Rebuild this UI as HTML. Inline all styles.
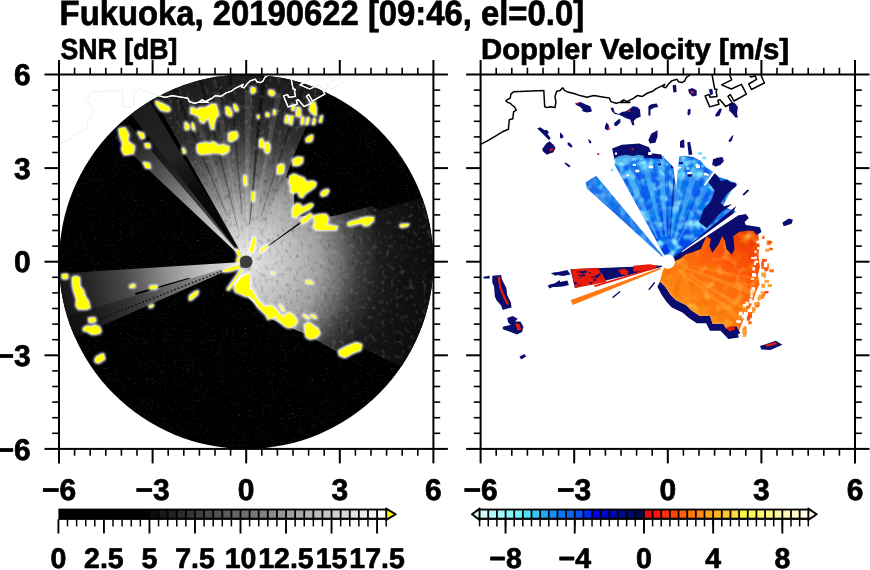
<!DOCTYPE html>
<html><head><meta charset="utf-8"><style>
html,body{margin:0;padding:0;background:#fff;width:870px;height:570px;overflow:hidden}
svg{display:block;will-change:transform}
text{text-rendering:geometricPrecision;-webkit-font-smoothing:antialiased}
</style></head><body>
<svg width="870" height="570" viewBox="0 0 870 570">
<g id="left-data">
<defs>
<radialGradient id="gE" gradientUnits="userSpaceOnUse" cx="246.2" cy="261.7" r="187.2"><stop offset="0" stop-color="#ececec"/><stop offset="0.07" stop-color="#dadada"/><stop offset="0.23" stop-color="#c2c2c2"/><stop offset="0.39" stop-color="#a0a0a0"/><stop offset="0.5" stop-color="#707070"/><stop offset="0.6" stop-color="#3c3c3c"/><stop offset="0.72" stop-color="#1c1c1c"/><stop offset="0.85" stop-color="#121212"/><stop offset="1" stop-color="#0e0e0e"/></radialGradient>
<radialGradient id="gN" gradientUnits="userSpaceOnUse" cx="246.2" cy="261.7" r="187.2"><stop offset="0" stop-color="#f0f0f0"/><stop offset="0.17" stop-color="#cccccc"/><stop offset="0.3" stop-color="#a8a8a8"/><stop offset="0.42" stop-color="#808080"/><stop offset="0.55" stop-color="#565656"/><stop offset="0.65" stop-color="#3a3a3a"/><stop offset="0.75" stop-color="#2a2a2a"/><stop offset="0.9" stop-color="#222222"/><stop offset="1" stop-color="#1c1c1c"/></radialGradient>
<radialGradient id="gNW" gradientUnits="userSpaceOnUse" cx="246.2" cy="261.7" r="187.2"><stop offset="0" stop-color="#ececec"/><stop offset="0.2" stop-color="#cccccc"/><stop offset="0.35" stop-color="#acacac"/><stop offset="0.5" stop-color="#7c7c7c"/><stop offset="0.7" stop-color="#464646"/><stop offset="0.85" stop-color="#262626"/><stop offset="1" stop-color="#141414"/></radialGradient>
<radialGradient id="gBand" gradientUnits="userSpaceOnUse" cx="246.2" cy="261.7" r="187.2"><stop offset="0" stop-color="#000"/><stop offset="0.45" stop-color="#0a0a0a"/><stop offset="0.7" stop-color="#242424"/><stop offset="1" stop-color="#1c1c1c"/></radialGradient>
<radialGradient id="gW" gradientUnits="userSpaceOnUse" cx="246.2" cy="261.7" r="187.2"><stop offset="0" stop-color="#e8e8e8"/><stop offset="0.2" stop-color="#c8c8c8"/><stop offset="0.45" stop-color="#8a8a8a"/><stop offset="0.65" stop-color="#4a4a4a"/><stop offset="0.85" stop-color="#262626"/><stop offset="1" stop-color="#161616"/></radialGradient>
<clipPath id="discL"><circle cx="246.2" cy="261.7" r="187.2"/></clipPath>
<filter id="glow" x="-10%" y="-10%" width="120%" height="120%"><feMorphology in="SourceAlpha" operator="dilate" radius="1.3" result="d"/><feGaussianBlur in="d" stdDeviation="1.3" result="b"/><feColorMatrix in="b" type="matrix" values="0 0 0 0 1  0 0 0 0 1  0 0 0 0 1  0 0 0 0.95 0" result="w"/><feMerge><feMergeNode in="w"/><feMergeNode in="SourceGraphic"/></feMerge></filter>
<filter id="specks" x="0" y="0" width="1" height="1"><feTurbulence type="turbulence" baseFrequency="0.35 0.6" numOctaves="1" seed="11" result="n"/><feColorMatrix in="n" type="matrix" values="0 0 0 0 1  0 0 0 0 1  0 0 0 0 1  1.3 0 0 0 -0.35" result="c"/><feComposite in="c" in2="SourceAlpha" operator="in"/></filter>
<filter id="grainK" x="0" y="0" width="1" height="1"><feTurbulence type="fractalNoise" baseFrequency="0.25 0.18" numOctaves="2" seed="21" result="n"/><feColorMatrix in="n" type="matrix" values="0 0 0 0 0  0 0 0 0 0  0 0 0 0 0  3.5 0 0 0 -1.9" result="c"/><feComposite in="c" in2="SourceAlpha" operator="in"/></filter>
<filter id="grainW" x="0" y="0" width="1" height="1"><feTurbulence type="fractalNoise" baseFrequency="0.22 0.2" numOctaves="2" seed="33" result="n"/><feColorMatrix in="n" type="matrix" values="0 0 0 0 1  0 0 0 0 1  0 0 0 0 1  3.5 0 0 0 -1.95" result="c"/><feComposite in="c" in2="SourceAlpha" operator="in"/></filter>
</defs>
<circle cx="246.2" cy="261.7" r="187.2" fill="#000"/>
<circle cx="246.2" cy="261.7" r="187.2" fill="#fff" filter="url(#specks)" opacity="0.22"/>
<g clip-path="url(#discL)">
<polygon points="246.2,261.7 234.3,287.1 246.8,296.0 259.2,308.9 272.0,319.6 290.9,327.9 305.5,334.1 343.5,355.4 364.2,348.7 404.0,368.1 404.0,368.1 407.6,362.6 411.0,356.9 414.2,351.0 417.3,345.1 420.1,339.1 422.7,333.0 425.0,326.8 427.2,320.5 429.1,314.2 430.9,307.7 432.4,301.3 433.6,294.7 434.7,288.2 435.5,281.6 436.1,275.0 436.4,268.3 436.5,261.7 436.4,255.1 436.1,248.4 435.5,241.8 434.7,235.2 433.6,228.7 432.4,222.1 430.9,215.7 429.1,209.2 427.2,202.9 425.0,196.6 380.2,210.3 371.6,205.9 337.9,215.0 321.9,218.0 312.6,215.2 296.8,216.7 294.3,204.3 294.1,185.0 286.1,177.0 292.8,158.1 322.7,87.4" fill="url(#gE)"/>
<polygon points="246.2,261.7 322.7,87.4 317.5,85.2 311.3,82.9 305.0,80.7 298.7,78.8 292.2,77.0 285.8,75.5 279.2,74.3 272.7,73.2 266.1,72.4 259.5,71.8 252.8,71.5 246.2,71.4 239.6,71.5 232.9,71.8 226.3,72.4 219.7,73.2 213.2,74.3 206.6,75.5 200.2,77.0 193.7,78.8 187.4,80.7 181.1,82.9 174.9,85.2 168.8,87.8 162.8,90.6 156.9,93.7 149.6,97.7" fill="url(#gN)" stroke="url(#gN)" stroke-width="1.2"/>
<polygon points="265.8,75.5 263.3,75.3 260.9,75.1 249.1,224.4 249.6,224.4 250.1,224.5" fill="#000" opacity="0.45"/>
<polygon points="231.5,75.1 229.9,75.2 228.3,75.4 241.7,215.1 242.1,215.1 242.5,215.0" fill="#000" opacity="0.3"/>
<polygon points="202.5,79.7 200.9,80.1 199.3,80.5 238.4,231.5 238.7,231.4 238.9,231.4" fill="#000" opacity="0.35"/>
<polygon points="305.6,84.2 304.0,83.7 302.5,83.2 260.3,217.1 260.7,217.2 261.0,217.3" fill="#000" opacity="0.3"/>
<polygon points="176.1,88.1 174.6,88.7 173.1,89.4 226.7,215.7 227.1,215.6 227.5,215.4" fill="#000" opacity="0.3"/>
<polygon points="281.9,93.8 278.9,93.3 276.0,92.7 251.6,231.0 252.2,231.1 252.7,231.2" fill="#fff" opacity="0.12"/>
<polygon points="252.2,90.2 248.4,90.1 244.7,90.1 245.9,230.5 246.6,230.5 247.3,230.5" fill="#fff" opacity="0.12"/>
<polygon points="219.4,92.2 216.4,92.7 213.5,93.3 240.2,231.1 240.8,231.0 241.3,230.9" fill="#fff" opacity="0.1"/>
<polygon points="193.2,98.5 190.3,99.4 187.5,100.4 235.5,232.4 236.0,232.2 236.6,232.0" fill="#fff" opacity="0.1"/>
<polygon points="246.2,261.7 234.3,287.1 246.8,296.0 259.2,308.9 272.0,319.6 290.9,327.9 305.5,334.1 343.5,355.4 364.2,348.7 404.0,368.1 404.0,368.1 407.6,362.6 411.0,356.9 414.2,351.0 417.3,345.1 420.1,339.1 422.7,333.0 425.0,326.8 427.2,320.5 429.1,314.2 430.9,307.7 432.4,301.3 433.6,294.7 434.7,288.2 435.5,281.6 436.1,275.0 436.4,268.3 436.5,261.7 436.4,255.1 436.1,248.4 435.5,241.8 434.7,235.2 433.6,228.7 432.4,222.1 430.9,215.7 429.1,209.2 427.2,202.9 425.0,196.6 380.2,210.3 371.6,205.9 337.9,215.0 321.9,218.0 312.6,215.2 296.8,216.7 294.3,204.3 294.1,185.0 286.1,177.0 292.8,158.1 322.7,87.4" fill="#000" filter="url(#grainK)" opacity="0.2"/>
<polygon points="246.2,261.7 234.3,287.1 246.8,296.0 259.2,308.9 272.0,319.6 290.9,327.9 305.5,334.1 343.5,355.4 364.2,348.7 404.0,368.1 404.0,368.1 407.6,362.6 411.0,356.9 414.2,351.0 417.3,345.1 420.1,339.1 422.7,333.0 425.0,326.8 427.2,320.5 429.1,314.2 430.9,307.7 432.4,301.3 433.6,294.7 434.7,288.2 435.5,281.6 436.1,275.0 436.4,268.3 436.5,261.7 436.4,255.1 436.1,248.4 435.5,241.8 434.7,235.2 433.6,228.7 432.4,222.1 430.9,215.7 429.1,209.2 427.2,202.9 425.0,196.6 380.2,210.3 371.6,205.9 337.9,215.0 321.9,218.0 312.6,215.2 296.8,216.7 294.3,204.3 294.1,185.0 286.1,177.0 292.8,158.1 322.7,87.4" fill="#fff" filter="url(#grainW)" opacity="0.15"/>
<polygon points="246.2,261.7 322.7,87.4 317.5,85.2 311.3,82.9 305.0,80.7 298.7,78.8 292.2,77.0 285.8,75.5 279.2,74.3 272.7,73.2 266.1,72.4 259.5,71.8 252.8,71.5 246.2,71.4 239.6,71.5 232.9,71.8 226.3,72.4 219.7,73.2 213.2,74.3 206.6,75.5 200.2,77.0 193.7,78.8 187.4,80.7 181.1,82.9 174.9,85.2 168.8,87.8 162.8,90.6 156.9,93.7 149.6,97.7" fill="#000" filter="url(#grainK)" opacity="0.2"/>
<polygon points="246.2,261.7 322.7,87.4 317.5,85.2 311.3,82.9 305.0,80.7 298.7,78.8 292.2,77.0 285.8,75.5 279.2,74.3 272.7,73.2 266.1,72.4 259.5,71.8 252.8,71.5 246.2,71.4 239.6,71.5 232.9,71.8 226.3,72.4 219.7,73.2 213.2,74.3 206.6,75.5 200.2,77.0 193.7,78.8 187.4,80.7 181.1,82.9 174.9,85.2 168.8,87.8 162.8,90.6 156.9,93.7 149.6,97.7" fill="#fff" filter="url(#grainW)" opacity="0.15"/>
<polygon points="128.7,124.1 125.7,126.7 122.7,129.4 119.9,132.1 117.0,135.0 114.3,137.8 246.2,261.7" fill="url(#gNW)"/>
<polygon points="148.2,98.6 144.2,101.0 140.3,103.5 136.5,106.2 132.7,108.9 129.0,111.7 236.6,249.4 236.9,249.2 237.2,249.0 237.5,248.7 237.8,248.5 238.2,248.3" fill="url(#gBand)"/>
<polygon points="150.2,138.8 147.5,140.9 144.9,143.1 246.2,261.7" fill="url(#gNW)" opacity="0.35"/>
<polygon points="56.3,273.7 56.6,278.5 57.1,283.3 57.7,288.1 58.5,292.9 59.3,297.6 60.3,302.4 61.4,307.1 62.6,311.8 63.9,316.4 65.4,321.1 66.9,325.6 68.6,330.2 70.4,334.7 72.3,339.1 246.2,261.7" fill="url(#gW)"/>
<polygon points="64.2,317.3 65.6,321.8 67.1,326.2 68.8,330.5 70.5,334.8 72.3,339.1 234.8,266.8 234.7,266.5 234.6,266.2 234.5,265.9 234.4,265.6 234.3,265.3" fill="#000" opacity="0.28"/>
<polygon points="135.1,293.1 135.4,294.1 135.7,295.1 189.5,278.8 189.3,278.3 189.2,277.8" fill="#000"/>
<line x1="228.8" y1="268.5" x2="95.1" y2="320.9" stroke="#080808" stroke-width="1.3" stroke-dasharray="1.6 2.2"/>
<polygon points="152.5,96.1 150.3,97.3 148.2,98.6 241.4,253.7 241.5,253.6 241.6,253.6" fill="#000"/>
<polygon points="317.8,211.6 317.1,210.7 316.5,209.9 267.5,246.0 267.7,246.2 267.9,246.5" fill="#000"/>
<g fill="#ffff00" filter="url(#glow)">
<polygon points="155.4,101.1 161.1,103.2 168.1,106.7 170.2,109.5 168.1,111.6 161.1,110.2 158.3,106.7 156.2,103.9" fill="#ffff00"/>
<polygon points="190.6,107.4 193.4,108.1 196.2,110.2 200.4,107.4 204.6,108.1 207.4,106.7 210.2,105.3 213.0,103.9 215.8,104.6 217.2,109.5 218.7,115.1 216.5,116.5 214.4,122.1 213.7,129.2 211.6,129.2 209.5,122.1 208.8,117.9 206.0,119.3 203.2,123.5 200.4,120.7 199.0,116.5 196.2,115.1 193.4,113.7 190.6,113.7" fill="#ffff00"/>
<polygon points="184.9,122.1 188.5,124.9 189.2,128.5 186.3,129.9 184.9,127.8" fill="#ffff00"/>
<polygon points="192.0,122.1 194.1,126.3 194.8,130.6 193.4,129.9 192.0,126.3" fill="#ffff00"/>
<polygon points="225.7,106.7 229.9,108.1 231.3,113.7 228.5,115.8 226.4,113.7" fill="#ffff00"/>
<polygon points="234.1,103.9 236.9,106.7 237.6,110.2 235.5,110.9 234.1,106.7" fill="#ffff00"/>
<polygon points="228.5,133.4 232.7,132.0 236.9,132.7 237.6,136.2 234.1,139.0 231.3,141.8 228.5,140.4" fill="#ffff00"/>
<polygon points="197.6,144.6 201.8,143.2 206.0,142.5 210.2,143.9 213.0,141.8 215.8,143.2 218.7,146.0 222.9,144.6 225.7,146.0 228.5,146.0 229.2,150.2 225.7,153.0 222.9,154.4 218.7,153.0 213.0,153.0 207.4,153.7 201.8,154.4 198.3,153.0 196.9,148.8" fill="#ffff00"/>
<polygon points="182.1,147.4 184.9,150.2 185.6,153.0 183.5,153.7" fill="#ffff00"/>
<polygon points="118.7,128.9 124.5,127.5 128.8,134.7 127.4,140.5 130.2,143.4 134.6,146.3 133.1,153.5 124.5,155.0 121.6,149.2 123.0,143.4 120.1,136.2" fill="#ffff00"/>
<polygon points="137.5,131.8 143.3,133.3 144.7,137.6 141.8,139.1" fill="#ffff00"/>
<polygon points="144.7,143.4 149.1,143.4 150.5,147.7 146.2,147.7" fill="#ffff00"/>
<polygon points="143.3,162.2 149.1,163.6 150.5,168.0 146.2,168.0" fill="#ffff00"/>
<polygon points="251.1,87.2 255.3,87.9 255.3,91.4 252.5,93.6 250.8,91.4" fill="#ffff00"/>
<polygon points="269.3,90.0 272.8,90.7 274.9,93.6 272.8,95.7 270.0,95.0 268.6,92.9" fill="#ffff00"/>
<polygon points="233.5,104.1 236.3,106.2 238.4,110.4 236.3,111.1 234.2,107.6" fill="#ffff00"/>
<polygon points="230.0,111.1 232.1,112.5 231.4,116.0 230.0,116.0" fill="#ffff00"/>
<polygon points="266.5,112.5 268.6,113.2 269.3,116.0 267.2,116.7 265.8,115.3" fill="#ffff00"/>
<polygon points="273.5,109.7 275.6,110.4 274.9,114.6 273.5,114.6" fill="#ffff00"/>
<polygon points="257.4,115.3 259.2,115.3 258.8,118.8 257.4,118.1" fill="#ffff00"/>
<polygon points="291.8,104.8 294.6,106.2 293.9,110.4 291.8,109.7" fill="#ffff00"/>
<polygon points="297.4,106.9 300.2,108.3 300.9,115.3 298.8,116.7 296.0,115.3" fill="#ffff00"/>
<polygon points="310.8,102.7 314.3,102.0 316.4,108.3 316.4,116.0 312.9,113.9 309.4,109.7" fill="#ffff00"/>
<polygon points="286.2,115.3 288.3,115.3 287.6,123.1 285.5,123.1 284.8,120.9" fill="#ffff00"/>
<polygon points="290.4,116.0 293.2,116.0 291.8,124.5 289.7,124.5" fill="#ffff00"/>
<polygon points="301.6,117.4 303.7,116.7 303.0,123.8 300.9,124.5" fill="#ffff00"/>
<polygon points="307.2,117.4 309.4,118.1 307.9,124.5 305.8,124.5" fill="#ffff00"/>
<polygon points="313.6,118.1 315.7,119.5 314.3,124.5 312.2,124.5" fill="#ffff00"/>
<polygon points="320.6,116.7 322.7,115.3 321.3,122.3 319.2,122.3" fill="#ffff00"/>
<polygon points="305.8,139.2 310.1,135.7 312.9,135.0 312.2,139.9 309.4,142.0 306.5,142.0" fill="#ffff00"/>
<polygon points="232.8,132.2 236.3,131.5 237.7,136.4 234.9,139.9 231.4,139.9 230.0,137.8" fill="#ffff00"/>
<polygon points="259.5,139.9 262.3,138.5 263.7,143.4 263.0,147.6 259.5,146.9" fill="#ffff00"/>
<polygon points="265.1,143.4 267.9,142.0 270.0,146.2 269.3,151.8 266.5,153.2 264.4,149.0" fill="#ffff00"/>
<polygon points="292.5,159.8 298.1,157.0 303.0,157.7 302.3,162.6 298.1,165.4 293.2,165.4" fill="#ffff00"/>
<polygon points="277.7,166.2 281.2,164.0 284.0,165.4 283.3,171.1 279.8,173.9 277.0,172.5" fill="#ffff00"/>
<polygon points="289.7,176.7 293.9,173.9 298.1,176.0 303.7,178.1 306.5,182.3 312.1,180.9 316.3,183.0 314.9,186.5 309.3,190.7 305.1,193.5 302.3,197.8 299.5,196.3 298.1,192.1 295.3,192.1 292.5,193.5 290.4,190.7 291.1,186.5 289.0,182.3" fill="#ffff00"/>
<polygon points="320.6,193.5 323.4,190.7 327.6,189.3 329.0,190.7 326.2,194.9 322.0,196.3" fill="#ffff00"/>
<polygon points="292.5,209.0 296.7,203.4 300.2,204.1 300.9,207.6 305.1,206.2 310.7,203.4 313.5,204.8 309.3,209.0 303.7,211.8 299.5,214.6 295.3,217.4 292.5,216.0" fill="#ffff00"/>
<polygon points="300.9,220.2 306.5,216.0 310.7,213.2 312.1,216.0 307.9,220.2 303.7,223.0 301.6,223.7" fill="#ffff00"/>
<polygon points="313.5,216.0 319.2,214.6 324.8,213.9 327.6,216.0 328.3,220.2 326.2,224.4 331.8,225.8 337.4,226.5 336.0,230.1 316.3,230.1 313.5,226.5 314.9,221.6" fill="#ffff00"/>
<polygon points="348.7,223.0 354.3,221.6 358.5,220.2 366.9,217.4 370.0,218.8 370.0,224.4 365.5,225.8 361.3,223.0 354.3,224.4 348.7,225.1" fill="#ffff00"/>
<polygon points="347.7,223.2 352.6,221.1 358.3,219.7 361.1,218.3 368.1,216.9 373.7,217.6 373.0,221.1 368.1,224.6 364.6,226.0 362.5,222.5 356.9,223.2 348.4,226.0" fill="#ffff00"/>
<polygon points="399.7,225.3 404.6,223.9 408.8,223.9 407.4,226.0 401.8,227.4" fill="#ffff00"/>
<polygon points="61.8,274.7 66.7,274.0 68.1,276.9 66.0,279.0 62.5,278.3" fill="#ffff00"/>
<polygon points="72.3,277.6 75.9,276.2 79.4,277.6 80.1,286.7 83.6,290.9 85.0,296.5 88.5,302.1 89.9,307.8 85.7,309.2 78.7,309.2 75.9,304.9 76.6,299.3 75.2,295.1 73.0,288.1 72.3,282.5" fill="#ffff00"/>
<polygon points="88.5,318.3 94.1,317.6 96.2,320.4 92.7,322.5 89.2,322.5" fill="#ffff00"/>
<polygon points="82.9,328.8 87.1,326.0 91.3,326.7 95.5,325.3 99.7,327.4 101.1,331.6 98.3,333.7 92.7,334.4 89.9,333.0 87.1,330.9 84.3,330.9" fill="#ffff00"/>
<polygon points="129.9,286.0 133.4,283.9 135.5,286.0 133.4,287.4 129.9,287.4" fill="#ffff00"/>
<polygon points="151.7,287.4 155.9,286.0 157.3,287.4 155.2,288.8 151.7,288.8" fill="#ffff00"/>
<polygon points="148.9,306.3 151.7,304.9 153.8,304.2 152.4,307.1 149.6,307.8" fill="#ffff00"/>
<polygon points="96.4,357.0 103.2,353.6 104.9,358.7 98.1,363.2 94.7,361.1" fill="#ffff00"/>
<polygon points="234.3,289.2 238.5,282.1 242.7,276.5 248.3,273.7 250.0,275.1 250.0,296.2 245.5,296.2 239.9,293.4 235.7,292.0" fill="#ffff00"/>
<polygon points="189.3,296.2 194.9,292.0 198.5,290.6 197.8,294.1 192.1,299.0 189.3,300.4" fill="#ffff00"/>
<polygon points="150.0,286.3 155.6,285.6 157.7,287.1 155.6,288.5 150.0,289.2" fill="#ffff00"/>
<polygon points="227.0,289.4 237.1,275.1 241.3,268.1 242.7,268.8 238.5,276.5 228.7,290.3" fill="#ffff00"/>
<polygon points="235.7,248.4 239.9,251.2 241.3,256.9 238.5,256.9" fill="#ffff00"/>
<polygon points="237.1,258.3 239.9,258.3 239.2,262.5 236.4,262.5" fill="#ffff00"/>
<polygon points="223.0,270.2 234.3,266.0 239.9,265.3 239.2,268.1 231.5,270.9 223.7,272.0" fill="#ffff00"/>
<polygon points="239.8,278.9 242.6,276.0 244.0,281.7 248.3,283.1 249.7,288.7 252.5,290.1 255.3,295.7 258.1,299.9 260.9,302.7 265.1,306.9 270.7,305.5 274.9,308.3 279.2,314.0 283.4,316.8 289.0,312.6 293.2,315.4 297.4,321.0 294.6,325.2 289.0,328.0 284.8,325.9 279.2,321.0 274.9,316.8 270.7,318.2 267.9,319.6 266.5,315.4 260.9,309.8 258.1,306.9 253.9,299.9 249.7,297.1 245.4,295.7 241.2,292.9 237.0,291.5 234.2,288.7 235.6,284.5" fill="#ffff00"/>
<polygon points="304.4,325.2 308.7,322.4 314.3,326.6 318.5,329.4 319.9,333.6 315.7,337.8 310.1,339.2 305.8,336.4" fill="#ffff00"/>
<polygon points="305.8,280.3 310.1,281.0 313.6,283.8 310.1,283.8 306.5,283.1" fill="#ffff00"/>
<polygon points="303.0,314.0 305.8,315.4 310.1,318.2 308.7,318.9 303.7,316.1" fill="#ffff00"/>
<polygon points="310.1,314.0 314.3,315.4 317.1,318.2 314.3,318.2" fill="#ffff00"/>
<polygon points="279.2,304.1 281.3,305.5 284.8,311.2 282.7,311.2" fill="#ffff00"/>
<polygon points="270.7,271.8 273.5,272.5 274.9,273.9 272.8,273.9" fill="#ffff00"/>
<polygon points="338.5,351.1 348.0,345.9 356.4,342.7 361.7,344.8 360.6,350.1 352.2,353.2 344.8,357.4 339.5,355.3" fill="#ffff00"/>
<polygon points="244.1,175.3 246.2,176.0 246.9,185.1 244.8,185.8 243.7,180.9" fill="#ffff00"/>
<polygon points="252.1,192.1 254.6,192.1 254.6,200.6 252.5,202.0 251.8,197.8" fill="#ffff00"/>
<polygon points="278.5,165.4 283.4,164.7 283.4,172.5 279.9,173.9 277.1,173.2" fill="#ffff00"/>
<polygon points="249.2,250.5 253.4,237.9 255.5,236.8 254.4,248.4 251.3,253.7" fill="#ffff00"/>
<polygon points="259.7,250.5 266.0,245.3 268.1,246.3 261.8,252.6" fill="#ffff00"/>
</g>
</g>
<polyline points="58.4,144.7 65.3,141.2 73.9,136.1 80.8,131.8 86.8,129.2 87.7,119.7 91.2,118.8 92.0,111.9 94.6,110.2 92.9,106.8 90.3,105.0 88.6,103.3 86.0,102.4 84.3,100.7 86.0,99.5 88.6,98.1 89.4,93.8 92.0,91.8 122.2,90.4 123.1,106.8 125.6,107.6 129.1,106.8 133.4,107.6 134.3,102.4 133.4,96.4 135.1,91.2 138.6,90.4 141.2,87.8 142.9,90.4 146.3,92.1 153.2,93.8 158.4,95.6 165.3,97.3 172.2,95.6 182.5,97.3 187.7,98.1 189.4,101.6 194.6,103.3 200.6,101.6 202.4,99.9 205.0,101.6 208.4,102.4 198.4,102.4 201.8,99.9 205.3,101.6 212.2,98.1 215.6,95.6 220.8,96.4 226.0,93.0 231.2,91.2 234.6,88.7 239.8,86.1 243.2,84.3 241.5,86.9 244.1,87.8 246.7,84.3 250.1,80.9 255.3,79.2 257.0,81.8 260.5,82.6 263.1,80.9 264.8,77.4 267.4,75.7 269.1,74.0" fill="none" stroke="#f2f2f2" stroke-width="1.2" stroke-linejoin="round"/>
<polyline points="290.4,74.4 293.1,89.0 295.4,89.5 294.5,91.3 295.4,96.4 288.5,97.3 287.6,94.5 283.5,95.9 288.1,106.9 297.3,104.2 296.3,100.5 298.2,99.6 304.1,106.5 311.0,103.3 306.4,96.4 308.7,94.5 312.4,101.0 324.8,94.1 319.8,84.4 309.7,89.0 300.0,84.9 310.1,79.8 307.8,74.4" fill="none" stroke="#f2f2f2" stroke-width="1.2" stroke-linejoin="round"/>
<polyline points="328.1,75.7 329.4,77.1 333.6,75.7 335.0,79.4 327.1,84.0 329.9,89.5 342.8,83.0 339.1,74.4" fill="none" stroke="#f2f2f2" stroke-width="1.2" stroke-linejoin="round"/>
<g clip-path="url(#discL)"><polyline points="58.4,144.7 65.3,141.2 73.9,136.1 80.8,131.8 86.8,129.2 87.7,119.7 91.2,118.8 92.0,111.9 94.6,110.2 92.9,106.8 90.3,105.0 88.6,103.3 86.0,102.4 84.3,100.7 86.0,99.5 88.6,98.1 89.4,93.8 92.0,91.8 122.2,90.4 123.1,106.8 125.6,107.6 129.1,106.8 133.4,107.6 134.3,102.4 133.4,96.4 135.1,91.2 138.6,90.4 141.2,87.8 142.9,90.4 146.3,92.1 153.2,93.8 158.4,95.6 165.3,97.3 172.2,95.6 182.5,97.3 187.7,98.1 189.4,101.6 194.6,103.3 200.6,101.6 202.4,99.9 205.0,101.6 208.4,102.4 198.4,102.4 201.8,99.9 205.3,101.6 212.2,98.1 215.6,95.6 220.8,96.4 226.0,93.0 231.2,91.2 234.6,88.7 239.8,86.1 243.2,84.3 241.5,86.9 244.1,87.8 246.7,84.3 250.1,80.9 255.3,79.2 257.0,81.8 260.5,82.6 263.1,80.9 264.8,77.4 267.4,75.7 269.1,74.0" fill="none" stroke="#ffffff" stroke-width="1.3" stroke-linejoin="round"/>
<polyline points="290.4,74.4 293.1,89.0 295.4,89.5 294.5,91.3 295.4,96.4 288.5,97.3 287.6,94.5 283.5,95.9 288.1,106.9 297.3,104.2 296.3,100.5 298.2,99.6 304.1,106.5 311.0,103.3 306.4,96.4 308.7,94.5 312.4,101.0 324.8,94.1 319.8,84.4 309.7,89.0 300.0,84.9 310.1,79.8 307.8,74.4" fill="none" stroke="#ffffff" stroke-width="1.3" stroke-linejoin="round"/>
<polyline points="328.1,75.7 329.4,77.1 333.6,75.7 335.0,79.4 327.1,84.0 329.9,89.5 342.8,83.0 339.1,74.4" fill="none" stroke="#ffffff" stroke-width="1.3" stroke-linejoin="round"/></g>
<circle cx="246.2" cy="261.7" r="6.3" fill="#3c3c3c"/>
</g>
<g id="right-data">
<defs>
<linearGradient id="gO" gradientUnits="userSpaceOnUse" x1="690" y1="315" x2="745" y2="238"><stop offset="0" stop-color="#ff9418"/><stop offset="0.35" stop-color="#ff7410"/><stop offset="0.7" stop-color="#ff5208"/><stop offset="1" stop-color="#f03c06"/></linearGradient>
<radialGradient id="gB" gradientUnits="userSpaceOnUse" cx="667.8" cy="261.7" r="187.2"><stop offset="0" stop-color="#0030e0"/><stop offset="0.15" stop-color="#0048ec"/><stop offset="0.3" stop-color="#0a5cf0"/><stop offset="0.5" stop-color="#1064f0"/><stop offset="1" stop-color="#0a5cf0"/></radialGradient>
<filter id="mottleY" x="0" y="0" width="1" height="1"><feTurbulence type="fractalNoise" baseFrequency="0.09" numOctaves="2" seed="4" result="n"/><feColorMatrix in="n" type="matrix" values="0 0 0 0 1  0 0 0 0 0.7  0 0 0 0 0.1  2.0 0 0 0 -1.05" result="c"/><feComposite in="c" in2="SourceAlpha" operator="in"/></filter>
<filter id="mottleR" x="0" y="0" width="1" height="1"><feTurbulence type="fractalNoise" baseFrequency="0.11" numOctaves="2" seed="9" result="n"/><feColorMatrix in="n" type="matrix" values="0 0 0 0 0.9  0 0 0 0 0.16  0 0 0 0 0.0  2.4 0 0 0 -1.1" result="c"/><feComposite in="c" in2="SourceAlpha" operator="in"/></filter>
<filter id="mottleC" x="0" y="0" width="1" height="1"><feTurbulence type="fractalNoise" baseFrequency="0.1" numOctaves="2" seed="2" result="n"/><feColorMatrix in="n" type="matrix" values="0 0 0 0 0.25  0 0 0 0 0.78  0 0 0 0 0.97  3.2 0 0 0 -1.3" result="c"/><feComposite in="c" in2="SourceAlpha" operator="in"/></filter>
<filter id="mottleD" x="0" y="0" width="1" height="1"><feTurbulence type="fractalNoise" baseFrequency="0.1" numOctaves="2" seed="7" result="n"/><feColorMatrix in="n" type="matrix" values="0 0 0 0 0.0  0 0 0 0 0.2  0 0 0 0 0.85  3.0 0 0 0 -1.35" result="c"/><feComposite in="c" in2="SourceAlpha" operator="in"/></filter>
</defs>
<polygon points="667.8,261.7 614.6,164.4 617.0,157.0 629.3,155.8 644.1,154.6 653.9,157.0 663.7,155.8 676.0,157.0 683.4,155.8 693.2,157.0 700.6,160.7 705.5,166.9 712.9,171.8 717.8,176.7 725.1,179.1 737.4,184.1 732.5,189.0 727.6,196.3 722.7,206.2 737.4,212.3" fill="url(#gB)"/>
<polygon points="667.8,261.7 614.6,164.4 617.0,157.0 629.3,155.8 644.1,154.6 653.9,157.0 663.7,155.8 676.0,157.0 683.4,155.8 693.2,157.0 700.6,160.7 705.5,166.9 712.9,171.8 717.8,176.7 725.1,179.1 737.4,184.1 732.5,189.0 727.6,196.3 722.7,206.2 737.4,212.3" fill="#fff" filter="url(#mottleC)"/>
<polygon points="667.8,261.7 614.6,164.4 617.0,157.0 629.3,155.8 644.1,154.6 653.9,157.0 663.7,155.8 676.0,157.0 683.4,155.8 693.2,157.0 700.6,160.7 705.5,166.9 712.9,171.8 717.8,176.7 725.1,179.1 737.4,184.1 732.5,189.0 727.6,196.3 722.7,206.2 737.4,212.3" fill="#fff" filter="url(#mottleD)"/>
<polygon points="630.4,169.1 628.3,170.0 626.1,171.0 624.0,172.0 656.9,239.3 657.4,239.0 657.9,238.8 658.4,238.6" fill="#5ec2f6" opacity="0.6"/>
<polygon points="648.7,163.7 646.5,164.2 644.2,164.7 642.0,165.3 661.3,237.6 661.9,237.4 662.5,237.3 663.0,237.2" fill="#5ec2f6" opacity="0.5"/>
<polygon points="664.3,161.9 662.0,162.0 659.7,162.2 657.4,162.4 665.2,236.9 665.8,236.8 666.3,236.8 666.9,236.8" fill="#5ec2f6" opacity="0.6"/>
<polygon points="685.1,163.4 682.8,163.0 680.5,162.7 678.2,162.4 670.4,236.9 671.0,236.9 671.6,237.0 672.1,237.1" fill="#5ec2f6" opacity="0.5"/>
<polygon points="700.3,167.3 698.1,166.6 695.9,165.9 693.6,165.3 674.3,237.6 674.8,237.7 675.4,237.9 675.9,238.1" fill="#5ec2f6" opacity="0.5"/>
<polygon points="716.2,174.4 714.2,173.3 712.1,172.2 710.0,171.2 678.3,239.1 678.9,239.3 679.4,239.6 679.9,239.9" fill="#5ec2f6" opacity="0.4"/>
<polygon points="636.9,166.7 635.3,167.3 633.7,167.9 659.3,238.2 659.7,238.1 660.1,238.0" fill="#0c52dc" opacity="0.45"/>
<polygon points="669.5,161.9 668.2,161.9 666.9,161.9 667.6,236.7 667.9,236.7 668.2,236.7" fill="#0c52dc" opacity="0.5"/>
<polygon points="676.5,162.2 675.5,162.2 674.4,162.1 669.5,236.8 669.7,236.8 670.0,236.8" fill="#0a0c6e" opacity="0.6"/>
<polygon points="692.0,164.8 690.3,164.4 688.6,164.0 673.0,237.3 673.4,237.4 673.8,237.5" fill="#0c52dc" opacity="0.35"/>
<polygon points="708.4,170.5 706.8,169.8 705.2,169.1 677.2,238.6 677.6,238.7 678.0,238.9" fill="#0c52dc" opacity="0.45"/>
<polygon points="655.6,162.6 653.9,162.8 652.2,163.1 663.9,237.0 664.3,237.0 664.8,236.9" fill="#0c52dc" opacity="0.35"/>
<polygon points="612.1,148.4 621.9,144.7 639.1,143.5 649.0,147.2 651.4,153.3 661.3,154.6 662.5,159.0 649.0,158.0 634.2,157.0 619.5,158.0 614.6,160.0" fill="#0a0c6e"/>
<polygon points="681.2,140.2 684.2,139.4 684.5,147.7 681.5,147.7" fill="#0a0c6e"/>
<polygon points="687.2,142.4 690.1,141.7 692.4,154.4 688.7,155.1" fill="#0a0c6e"/>
<rect x="659.6" y="170.2" width="2.7" height="2.6" fill="#7ad8f8"/>
<rect x="676.9" y="166.5" width="4.3" height="1.9" fill="#fff"/>
<rect x="687.4" y="160.5" width="4.0" height="2.5" fill="#5ec2f6"/>
<rect x="675.0" y="168.1" width="4.5" height="1.6" fill="#fff"/>
<rect x="687.2" y="171.9" width="4.2" height="2.3" fill="#fff"/>
<rect x="686.2" y="167.1" width="3.3" height="2.8" fill="#7ad8f8"/>
<rect x="670.7" y="157.7" width="3.3" height="2.8" fill="#fff"/>
<rect x="670.8" y="165.0" width="4.0" height="2.9" fill="#0a0c6e"/>
<rect x="611.7" y="159.3" width="4.2" height="2.6" fill="#fff"/>
<rect x="614.8" y="161.9" width="3.9" height="2.8" fill="#5ec2f6"/>
<rect x="632.7" y="163.9" width="3.3" height="2.0" fill="#fff"/>
<rect x="635.4" y="169.7" width="3.9" height="2.7" fill="#fff"/>
<rect x="660.6" y="172.5" width="3.6" height="2.9" fill="#7ad8f8"/>
<rect x="640.3" y="158.3" width="3.4" height="1.9" fill="#5ec2f6"/>
<rect x="610.9" y="168.8" width="2.0" height="2.6" fill="#7ad8f8"/>
<rect x="655.0" y="151.3" width="2.8" height="1.6" fill="#fff"/>
<rect x="703.7" y="172.8" width="3.6" height="2.3" fill="#fff"/>
<rect x="623.1" y="162.1" width="4.0" height="1.8" fill="#5ec2f6"/>
<rect x="704.6" y="174.0" width="4.3" height="1.6" fill="#fff"/>
<rect x="702.5" y="157.6" width="4.0" height="1.6" fill="#7ad8f8"/>
<rect x="698.0" y="152.3" width="4.1" height="2.5" fill="#7ad8f8"/>
<rect x="648.3" y="151.9" width="3.4" height="3.0" fill="#fff"/>
<rect x="631.4" y="173.9" width="2.4" height="1.9" fill="#5ec2f6"/>
<rect x="678.9" y="162.2" width="4.1" height="1.8" fill="#0a0c6e"/>
<rect x="648.7" y="165.7" width="4.4" height="2.6" fill="#fff"/>
<rect x="631.8" y="158.0" width="4.4" height="2.4" fill="#fff"/>
<rect x="701.3" y="164.5" width="3.1" height="2.8" fill="#5ec2f6"/>
<rect x="641.2" y="164.5" width="2.6" height="2.0" fill="#5ec2f6"/>
<rect x="626.4" y="174.3" width="2.8" height="2.0" fill="#fff"/>
<rect x="666.2" y="163.0" width="2.0" height="2.9" fill="#5ec2f6"/>
<rect x="695.4" y="163.8" width="3.1" height="2.2" fill="#fff"/>
<rect x="657.9" y="163.4" width="3.1" height="1.9" fill="#0a0c6e"/>
<rect x="627.5" y="150.2" width="2.8" height="2.0" fill="#0a0c6e"/>
<rect x="614.9" y="152.5" width="2.1" height="2.2" fill="#fff"/>
<rect x="696.1" y="165.3" width="3.9" height="2.7" fill="#fff"/>
<rect x="703.6" y="161.4" width="4.2" height="1.5" fill="#fff"/>
<rect x="648.0" y="153.1" width="3.8" height="1.6" fill="#fff"/>
<rect x="702.6" y="156.6" width="2.9" height="2.3" fill="#7ad8f8"/>
<rect x="687.9" y="174.4" width="4.3" height="2.3" fill="#0a0c6e"/>
<rect x="704.5" y="152.0" width="3.6" height="2.8" fill="#fff"/>
<polygon points="713.1,171.5 717.9,176.3 721.0,181.0 727.3,179.4 730.5,182.6 735.2,182.6 736.8,185.7 727.3,193.6 721.0,203.1 724.2,206.2 732.1,203.9 719.4,214.1 706.8,228.3 698.9,222.0 703.7,209.4 711.5,199.9 714.7,190.5 708.4,182.6" fill="#0a0c6e"/>
<polygon points="703.7,185.0 713.9,170.8 715.5,172.3 705.2,185.7" fill="#fff"/>
<polygon points="713.1,158.9 722.6,157.4 723.4,162.1 717.9,165.2 712.3,165.2" fill="#0a0c6e"/>
<polygon points="613.3,158.9 618.9,156.1 626.0,154.7 633.0,156.1 638.6,154.7 644.2,156.1 642.8,158.9 633.0,160.4 624.6,161.8 616.1,163.2" fill="#5ec2f6" opacity="0.8"/>
<polygon points="660.9,147.2 680.5,146.0 678.1,166.9 676.2,189.0 673.2,166.9 664.6,158.3" fill="#fff"/>
<polygon points="663.8,256.9 596.3,175.9 590.8,179.1 585.7,182.4 586.9,188.3 663.2,257.5" fill="#1c6ce8"/>
<polygon points="663.8,256.9 596.3,175.9 590.8,179.1 585.7,182.4 586.9,188.3 663.2,257.5" fill="#fff" filter="url(#mottleC)" opacity="0.7"/>
<polygon points="663.8,256.9 596.3,175.9 590.8,179.1 585.7,182.4 586.9,188.3 663.2,257.5" fill="#fff" filter="url(#mottleD)"/>
<polygon points="667.8,261.7 688.4,246.1 736.1,206.1 733.3,212.4 738.9,215.3 745.9,213.9 748.8,218.1 744.5,222.3 745.9,225.1 755.8,226.5 760.0,227.2 761.4,232.1 757.2,234.9 757.9,240.5 755.8,248.9 722.1,274.2" fill="#0a0c6e"/>
<polygon points="660.0,281.6 665.3,286.8 670.5,294.7 675.8,300.0 686.3,305.3 691.6,310.5 699.5,315.8 710.0,315.8 712.6,323.7 723.2,323.7 728.4,331.6 736.3,328.9 738.9,337.4 728.4,338.9 720.5,330.8 710.0,330.8 706.1,323.2 696.8,323.2 688.9,317.9 682.4,312.6 671.8,307.4 666.6,302.1 661.3,294.2 657.4,286.8" fill="#0a0c6e"/>
<polygon points="667.8,261.7 671.6,263.0 680.0,258.8 685.6,254.5 694.0,251.7 701.0,248.9 703.9,241.9 706.7,236.3 710.9,239.1 709.5,246.1 712.3,253.1 719.3,243.3 722.1,236.3 724.9,240.5 726.3,248.9 731.9,254.5 734.7,248.9 733.3,236.3 738.9,232.1 747.3,230.7 753.0,230.7 757.2,234.9 758.4,235.5 759.5,246.1 758.4,256.6 759.9,267.1 757.8,275.5 759.5,283.9 755.7,292.4 753.2,300.8 749.4,309.2 745.2,315.5 741.6,323.9 738.4,332.4 728.4,331.6 723.2,323.7 712.6,323.7 710.0,315.8 699.5,315.8 691.6,310.5 686.3,305.3 675.8,300.0 670.5,294.7 665.3,286.8 660.0,281.6 662.6,271.1 665.3,265.8" fill="url(#gO)"/>
<polygon points="667.8,261.7 671.6,263.0 680.0,258.8 685.6,254.5 694.0,251.7 701.0,248.9 703.9,241.9 706.7,236.3 710.9,239.1 709.5,246.1 712.3,253.1 719.3,243.3 722.1,236.3 724.9,240.5 726.3,248.9 731.9,254.5 734.7,248.9 733.3,236.3 738.9,232.1 747.3,230.7 753.0,230.7 757.2,234.9 758.4,235.5 759.5,246.1 758.4,256.6 759.9,267.1 757.8,275.5 759.5,283.9 755.7,292.4 753.2,300.8 749.4,309.2 745.2,315.5 741.6,323.9 738.4,332.4 728.4,331.6 723.2,323.7 712.6,323.7 710.0,315.8 699.5,315.8 691.6,310.5 686.3,305.3 675.8,300.0 670.5,294.7 665.3,286.8 660.0,281.6 662.6,271.1 665.3,265.8" fill="#fff" filter="url(#mottleY)"/>
<polygon points="667.8,261.7 671.6,263.0 680.0,258.8 685.6,254.5 694.0,251.7 701.0,248.9 703.9,241.9 706.7,236.3 710.9,239.1 709.5,246.1 712.3,253.1 719.3,243.3 722.1,236.3 724.9,240.5 726.3,248.9 731.9,254.5 734.7,248.9 733.3,236.3 738.9,232.1 747.3,230.7 753.0,230.7 757.2,234.9 758.4,235.5 759.5,246.1 758.4,256.6 759.9,267.1 757.8,275.5 759.5,283.9 755.7,292.4 753.2,300.8 749.4,309.2 745.2,315.5 741.6,323.9 738.4,332.4 728.4,331.6 723.2,323.7 712.6,323.7 710.0,315.8 699.5,315.8 691.6,310.5 686.3,305.3 675.8,300.0 670.5,294.7 665.3,286.8 660.0,281.6 662.6,271.1 665.3,265.8" fill="#fff" filter="url(#mottleR)"/>
<rect x="766.7" y="240.4" width="4.2" height="4.8" fill="#ff8a20"/>
<rect x="762.1" y="235.9" width="2.5" height="3.1" fill="#ff6a14"/>
<rect x="756.4" y="240.6" width="3.5" height="2.8" fill="#fff"/>
<rect x="767.9" y="241.2" width="4.3" height="2.2" fill="#f85010"/>
<rect x="757.3" y="247.0" width="2.4" height="2.4" fill="#fff"/>
<rect x="769.0" y="247.7" width="4.0" height="2.6" fill="#ff6a14"/>
<rect x="754.3" y="250.6" width="2.3" height="2.1" fill="#fff"/>
<rect x="765.2" y="248.7" width="4.0" height="3.0" fill="#ffa030"/>
<rect x="754.4" y="256.4" width="2.4" height="2.9" fill="#fff"/>
<rect x="761.9" y="258.8" width="4.8" height="3.1" fill="#f85010"/>
<rect x="751.1" y="257.1" width="3.2" height="2.0" fill="#fff"/>
<rect x="761.2" y="261.5" width="2.6" height="4.3" fill="#f85010"/>
<rect x="754.5" y="260.7" width="3.6" height="2.2" fill="#fff"/>
<rect x="767.1" y="263.4" width="2.1" height="4.8" fill="#ff8a20"/>
<rect x="753.8" y="262.3" width="2.3" height="2.6" fill="#fff"/>
<rect x="761.2" y="264.6" width="2.9" height="4.4" fill="#ff6a14"/>
<rect x="765.1" y="267.6" width="2.2" height="3.8" fill="#f85010"/>
<rect x="752.4" y="267.2" width="2.5" height="3.3" fill="#fff"/>
<rect x="769.4" y="269.3" width="4.4" height="3.0" fill="#ff6a14"/>
<rect x="752.0" y="273.0" width="3.3" height="3.6" fill="#fff"/>
<rect x="764.0" y="267.5" width="4.5" height="2.9" fill="#f85010"/>
<rect x="761.1" y="272.5" width="4.9" height="4.1" fill="#ffa030"/>
<rect x="754.0" y="273.9" width="2.3" height="2.8" fill="#fff"/>
<rect x="763.5" y="275.3" width="2.3" height="2.8" fill="#ffa030"/>
<rect x="750.9" y="277.8" width="3.2" height="2.1" fill="#fff"/>
<rect x="764.5" y="280.0" width="4.5" height="2.8" fill="#ffa030"/>
<rect x="761.4" y="283.6" width="3.4" height="4.3" fill="#ffa030"/>
<rect x="767.6" y="284.1" width="4.4" height="3.0" fill="#ffa030"/>
<rect x="750.2" y="289.3" width="3.4" height="4.0" fill="#fff"/>
<rect x="751.4" y="287.2" width="3.7" height="3.9" fill="#fff"/>
<rect x="764.3" y="291.0" width="4.2" height="2.5" fill="#f85010"/>
<rect x="750.3" y="293.5" width="2.5" height="4.0" fill="#fff"/>
<rect x="762.4" y="292.3" width="2.5" height="4.3" fill="#ff6a14"/>
<rect x="760.6" y="291.2" width="2.2" height="2.4" fill="#ffa030"/>
<rect x="760.7" y="294.9" width="3.1" height="4.0" fill="#ff8a20"/>
<rect x="750.4" y="300.1" width="2.0" height="2.8" fill="#fff"/>
<rect x="758.8" y="294.6" width="4.5" height="3.1" fill="#ff8a20"/>
<rect x="749.4" y="298.5" width="3.0" height="3.9" fill="#fff"/>
<rect x="757.6" y="296.8" width="3.2" height="3.7" fill="#ffa030"/>
<rect x="749.6" y="301.1" width="3.0" height="2.4" fill="#fff"/>
<rect x="754.5" y="304.4" width="4.0" height="3.1" fill="#ffa030"/>
<rect x="745.4" y="301.8" width="3.3" height="3.8" fill="#fff"/>
<rect x="756.6" y="301.8" width="2.9" height="4.9" fill="#f85010"/>
<rect x="742.8" y="304.0" width="3.2" height="3.5" fill="#fff"/>
<rect x="754.0" y="302.2" width="4.8" height="2.9" fill="#ffa030"/>
<rect x="747.7" y="309.1" width="3.9" height="2.5" fill="#fff"/>
<rect x="752.1" y="307.3" width="3.4" height="3.7" fill="#ff6a14"/>
<rect x="752.1" y="308.1" width="2.5" height="5.0" fill="#ffa030"/>
<rect x="738.8" y="311.7" width="3.7" height="3.8" fill="#fff"/>
<rect x="743.9" y="311.9" width="3.4" height="3.2" fill="#fff"/>
<rect x="748.0" y="312.0" width="4.0" height="4.4" fill="#ff6a14"/>
<rect x="741.9" y="314.5" width="3.8" height="3.8" fill="#fff"/>
<rect x="746.8" y="317.0" width="3.3" height="3.7" fill="#f85010"/>
<rect x="737.0" y="320.0" width="3.8" height="2.9" fill="#fff"/>
<rect x="747.5" y="314.7" width="4.3" height="3.7" fill="#f85010"/>
<rect x="748.2" y="321.2" width="3.5" height="3.0" fill="#ff6a14"/>
<rect x="736.2" y="320.2" width="3.5" height="2.5" fill="#fff"/>
<rect x="743.6" y="326.4" width="3.0" height="3.3" fill="#ff8a20"/>
<rect x="742.6" y="327.7" width="2.7" height="3.9" fill="#ff8a20"/>
<rect x="744.0" y="330.4" width="2.4" height="3.8" fill="#f85010"/>
<rect x="742.5" y="329.7" width="4.0" height="4.2" fill="#ffa030"/>
<rect x="732.8" y="332.8" width="3.8" height="2.3" fill="#fff"/>
<rect x="742.6" y="332.1" width="3.5" height="4.8" fill="#ffa030"/>
<polygon points="754.6,296.8 755.4,294.7 756.1,292.7 756.8,290.6 676.7,264.6 676.6,264.8 676.6,265.0 676.5,265.2" fill="#ffb030" opacity="0.35"/>
<polygon points="746.3,312.7 747.2,311.3 748.0,309.9 748.9,308.5 675.9,266.4 675.8,266.5 675.7,266.7 675.6,266.8" fill="#ffb030" opacity="0.35"/>
<polygon points="739.5,321.9 740.5,320.6 741.6,319.3 742.6,318.0 675.3,267.3 675.2,267.5 675.1,267.6 675.0,267.7" fill="#ffb030" opacity="0.3"/>
<polygon points="759.4,281.2 759.7,279.6 760.0,278.0 677.0,263.3 677.0,263.5 677.0,263.6" fill="#ffb030" opacity="0.25"/>
<polygon points="725.8,328.9 736.3,326.3 740.3,332.9 731.1,338.2 725.8,334.2" fill="#0a0c6e"/>
<polygon points="727.1,327.6 733.7,325.8 735.0,329.5 728.9,331.6" fill="#e81a0a"/>
<polygon points="760.0,346.1 775.8,340.8 782.4,344.7 770.5,350.0 761.3,349.5" fill="#0a0c6e"/>
<polygon points="765.3,344.7 775.8,342.1 777.1,344.2 766.6,346.8" fill="#e81a0a"/>
<polygon points="782.4,222.4 788.9,218.4 792.9,219.7 791.6,223.7 783.7,226.3" fill="#0a0c6e"/>
<polygon points="761.7,200.0 760.6,198.4 759.5,196.8 758.3,195.2 681.6,251.5 681.8,251.8 682.0,252.0 682.1,252.3" fill="#fff"/>
<polygon points="663.1,265.5 570.4,269.2 574.9,287.9 661.6,267.0" fill="#0a0c6e"/>
<polygon points="571.2,269.2 597.3,267.7 601.8,272.9 604.8,278.9 606.3,281.9 574.9,287.9" fill="#e81a0a"/>
<polygon points="618.2,269.9 624.2,268.5 628.7,271.4 627.2,275.2 621.2,274.4" fill="#e81a0a"/>
<polygon points="633.2,265.8 649.6,264.3 658.6,265.8 652.6,268.5 640.7,271.4 633.2,271.4" fill="#e81a0a"/>
<polygon points="600.1,271.2 602.5,271.2 602.5,272.7 600.1,272.7" fill="#0a0c6e"/>
<polygon points="589.2,271.9 590.8,271.9 590.8,273.5 589.2,273.5" fill="#0a0c6e"/>
<polygon points="580.0,276.7 581.3,276.7 581.3,277.8 580.0,277.8" fill="#0a0c6e"/>
<polygon points="594.6,276.2 596.9,276.2 596.9,278.2 594.6,278.2" fill="#0a0c6e"/>
<polygon points="584.1,270.8 587.0,270.8 587.0,272.6 584.1,272.6" fill="#0a0c6e"/>
<polygon points="593.1,279.2 596.3,279.2 596.3,280.7 593.1,280.7" fill="#0a0c6e"/>
<polygon points="596.1,275.5 598.5,275.5 598.5,277.3 596.1,277.3" fill="#0a0c6e"/>
<polygon points="582.8,271.2 585.0,271.2 585.0,273.2 582.8,273.2" fill="#0a0c6e"/>
<polygon points="591.1,276.6 593.6,276.6 593.6,277.8 591.1,277.8" fill="#0a0c6e"/>
<polygon points="578.7,274.8 581.6,274.8 581.6,276.0 578.7,276.0" fill="#0a0c6e"/>
<polygon points="576.8,271.4 578.1,271.4 578.1,272.7 576.8,272.7" fill="#0a0c6e"/>
<polygon points="590.5,282.2 592.4,282.2 592.4,283.7 590.5,283.7" fill="#0a0c6e"/>
<polygon points="582.0,274.5 584.8,274.5 584.8,276.2 582.0,276.2" fill="#0a0c6e"/>
<polygon points="581.1,271.5 584.0,271.5 584.0,273.5 581.1,273.5" fill="#0a0c6e"/>
<polygon points="598.2,273.5 600.5,273.5 600.5,275.8 598.2,275.8" fill="#0a0c6e"/>
<polygon points="578.4,284.5 579.7,284.5 579.7,286.0 578.4,286.0" fill="#0a0c6e"/>
<polygon points="574.1,282.0 576.7,282.0 576.7,284.4 574.1,284.4" fill="#0a0c6e"/>
<polygon points="595.8,275.1 599.0,275.1 599.0,276.6 595.8,276.6" fill="#0a0c6e"/>
<polygon points="579.2,271.1 581.4,271.1 581.4,272.3 579.2,272.3" fill="#0a0c6e"/>
<polygon points="579.9,271.5 582.2,271.5 582.2,272.6 579.9,272.6" fill="#0a0c6e"/>
<polygon points="589.7,282.1 591.4,282.1 591.4,283.6 589.7,283.6" fill="#0a0c6e"/>
<polygon points="660.1,267.7 660.8,269.2 572.7,305.1 570.7,300.1" fill="#ff7a14"/>
<polygon points="655.6,267.0 656.4,268.2 595.1,287.1 593.6,285.6" fill="#e81a0a"/>
<polygon points="612.3,296.9 619.7,290.9 620.5,292.1 613.0,298.3" fill="#0a0c6e"/>
<polygon points="548.0,284.9 554.0,283.4 559.9,281.9 567.4,280.4 568.9,284.9 562.9,286.4 555.5,287.1 548.7,287.1" fill="#0a0c6e"/>
<polygon points="551.0,272.9 557.0,272.2 567.4,269.9 570.4,274.4 562.9,275.9 554.0,274.4" fill="#0a0c6e"/>
<polygon points="648.1,289.4 654.1,281.9 655.3,282.8 649.6,290.1" fill="#0a0c6e"/>
<polygon points="492.3,275.8 501.1,274.9 501.9,279.3 506.3,288.1 507.2,295.1 510.7,302.1 511.6,307.4 502.8,310.0 501.1,305.6 496.7,300.4 494.9,296.8 494.0,286.3 492.3,282.8" fill="#0a0c6e"/>
<polygon points="497.5,276.7 500.2,276.7 501.1,286.3 504.6,295.1 508.9,303.9 507.2,305.6 502.8,296.8 499.3,288.1" fill="#e81a0a"/>
<polygon points="483.5,276.7 489.6,275.8 489.6,278.4 483.5,278.4" fill="#0a0c6e"/>
<polygon points="507.2,317.9 512.5,316.1 517.7,318.8 515.1,321.4 520.4,321.4 523.5,326.7 522.1,331.9 516.8,334.6 510.7,331.9 502.8,329.3 502.8,326.7 510.7,324.9 508.1,322.3" fill="#0a0c6e"/>
<polygon points="515.1,323.2 519.5,324.0 521.2,329.3 517.7,331.1" fill="#e81a0a"/>
<polygon points="519.5,356.5 524.7,353.9 526.0,356.5 521.2,359.6" fill="#0a0c6e"/>
<polygon points="548.4,286.3 553.7,284.6 558.1,281.1 560.0,280.2 560.0,284.6 553.7,286.7 549.3,288.4" fill="#0a0c6e"/>
<polygon points="551.1,273.2 557.2,272.3 560.0,274.0 555.4,275.8" fill="#0a0c6e"/>
<polygon points="575.4,103.5 580.4,102.1 585.3,104.2 590.2,106.3 591.6,109.8 588.1,111.9 583.9,111.2 580.4,107.0 576.1,104.9" fill="#0a0c6e"/>
<polygon points="610.5,107.7 613.3,107.7 614.7,112.6 618.9,114.0 621.8,111.9 626.0,111.2 630.2,108.4 633.0,106.3 637.2,107.0 640.0,109.8 640.7,116.8 636.5,118.2 633.7,121.1 634.4,125.3 632.3,125.3 630.2,119.6 626.0,118.2 621.8,116.1 618.9,114.7 614.7,114.0 611.9,111.2" fill="#0a0c6e"/>
<polygon points="614.0,123.2 618.2,119.6 620.4,118.9 620.4,122.5 616.8,126.0 614.7,126.0" fill="#0a0c6e"/>
<polygon points="604.9,126.7 606.3,122.5 608.4,124.6 609.8,129.5 607.0,130.2 604.9,128.8" fill="#0a0c6e"/>
<polygon points="648.4,106.3 651.2,104.2 656.8,103.5 658.2,107.0 654.0,107.7 650.5,109.8 650.5,115.4 648.4,115.4" fill="#0a0c6e"/>
<polygon points="648.4,140.0 651.2,133.7 657.5,130.2 657.5,136.5 655.4,142.8 649.8,143.5" fill="#0a0c6e"/>
<polygon points="560.0,132.3 562.8,135.1 563.5,137.2 561.4,138.6 560.0,137.9" fill="#0a0c6e"/>
<polygon points="567.7,142.1 570.5,143.5 572.6,146.3 571.2,147.7 567.7,144.9" fill="#0a0c6e"/>
<polygon points="588.1,139.3 590.2,140.0 591.6,142.8 589.5,143.5" fill="#0a0c6e"/>
<polygon points="564.2,162.5 567.0,163.2 570.5,166.0 569.1,167.4 565.6,164.6" fill="#0a0c6e"/>
<polygon points="575.4,102.8 577.5,102.8 577.5,104.2 575.4,104.2" fill="#e81a0a"/>
<polygon points="628.1,110.5 630.2,110.1 630.2,111.9 628.1,111.9" fill="#e81a0a"/>
<polygon points="607.7,127.4 609.4,127.4 609.4,129.5 607.7,129.5" fill="#e81a0a"/>
<polygon points="597.2,153.3 599.3,153.3 599.3,155.0 597.2,155.0" fill="#e81a0a"/>
<polygon points="631.6,148.4 633.7,148.4 633.7,150.1 631.6,150.1" fill="#e81a0a"/>
<polygon points="537.2,128.4 540.3,127.2 544.6,130.3 546.4,129.7 548.9,132.1 547.6,134.0 550.7,138.3 548.9,140.1 544.6,135.8 540.9,132.1" fill="#0a0c6e"/>
<polygon points="542.1,149.3 546.4,143.2 549.5,141.3 553.2,144.4 555.6,148.1 553.2,152.4 549.5,153.6 547.0,154.8 543.3,151.8" fill="#0a0c6e"/>
<polygon points="549.5,149.3 552.6,148.1 553.2,149.9 550.1,151.2" fill="#e81a0a"/>
<polygon points="582.0,110.0 591.9,110.0 591.3,111.8 587.0,112.5 582.7,111.2" fill="#0a0c6e"/>
<polygon points="672.6,85.2 676.0,84.7 676.6,92.1 673.4,92.6" fill="#0a0c6e"/>
<polygon points="688.1,89.5 692.4,88.1 696.7,90.4 696.7,95.6 692.4,96.4 689.0,93.0" fill="#0a0c6e"/>
<polygon points="690.7,91.2 693.8,90.9 693.8,93.3 690.7,93.7" fill="#e81a0a"/>
<polygon points="708.8,89.5 712.2,88.7 713.1,93.8 710.5,95.6" fill="#0a0c6e"/>
<polygon points="687.9,109.6 690.5,108.8 690.5,113.2 688.8,115.8 687.4,114.0" fill="#0a0c6e"/>
<polygon points="715.1,114.9 719.5,108.8 722.1,108.8 719.5,115.8 716.0,116.7" fill="#0a0c6e"/>
<polygon points="729.1,103.5 734.4,102.6 737.9,107.0 737.0,113.2 737.9,117.5 735.3,117.5 732.6,114.0 729.1,110.5" fill="#0a0c6e"/>
<polygon points="728.2,141.2 731.8,136.0 733.5,135.1 731.8,140.4 730.0,142.1" fill="#0a0c6e"/>
<polygon points="712.5,163.2 716.0,157.9 722.1,157.0 723.9,160.5 720.4,164.9 715.1,166.7" fill="#0a0c6e"/>
<polygon points="742.3,194.7 747.5,189.5 749.3,190.4 744.0,195.6" fill="#0a0c6e"/>
<polygon points="680.0,141.2 683.5,140.4 682.6,147.4 680.0,147.4" fill="#0a0c6e"/>
<polyline points="480.0,144.7 486.9,141.2 495.5,136.1 502.4,131.8 508.4,129.2 509.3,119.7 512.8,118.8 513.6,111.9 516.2,110.2 514.5,106.8 511.9,105.0 510.2,103.3 507.6,102.4 505.9,100.7 507.6,99.5 510.2,98.1 511.0,93.8 513.6,91.8 543.8,90.4 544.7,106.8 547.2,107.6 550.7,106.8 555.0,107.6 555.9,102.4 555.0,96.4 556.7,91.2 560.2,90.4 562.8,87.8 564.5,90.4 567.9,92.1 574.8,93.8 580.0,95.6 586.9,97.3 593.8,95.6 604.1,97.3 609.3,98.1 611.0,101.6 616.2,103.3 622.2,101.6 624.0,99.9 626.6,101.6 630.0,102.4 620.0,102.4 623.4,99.9 626.9,101.6 633.8,98.1 637.2,95.6 642.4,96.4 647.6,93.0 652.8,91.2 656.2,88.7 661.4,86.1 664.8,84.3 663.1,86.9 665.7,87.8 668.3,84.3 671.7,80.9 676.9,79.2 678.6,81.8 682.1,82.6 684.7,80.9 686.4,77.4 689.0,75.7 690.7,74.0" fill="none" stroke="#000" stroke-width="1.5" stroke-linejoin="round"/>
<polyline points="712.0,74.4 714.7,89.0 717.0,89.5 716.1,91.3 717.0,96.4 710.1,97.3 709.2,94.5 705.1,95.9 709.7,106.9 718.9,104.2 717.9,100.5 719.8,99.6 725.7,106.5 732.6,103.3 728.0,96.4 730.3,94.5 734.0,101.0 746.4,94.1 741.4,84.4 731.3,89.0 721.6,84.9 731.7,79.8 729.4,74.4" fill="none" stroke="#000" stroke-width="1.5" stroke-linejoin="round"/>
<polyline points="749.7,75.7 751.0,77.1 755.2,75.7 756.6,79.4 748.7,84.0 751.5,89.5 764.4,83.0 760.7,74.4" fill="none" stroke="#000" stroke-width="1.5" stroke-linejoin="round"/>
<circle cx="667.8" cy="261.7" r="7.2" fill="#fff"/>
</g>
<polygon points="386.18,508.60 395.68,514.25 386.18,519.90" fill="#ffff00" stroke="#000" stroke-width="2" stroke-linejoin="round"/>
<rect x="58.40" y="508.60" width="327.78" height="11.30" fill="#000"/>
<rect x="59.30" y="510.50" width="7.31" height="7.20" fill="#000000"/>
<rect x="68.41" y="510.50" width="7.31" height="7.20" fill="#000000"/>
<rect x="77.51" y="510.50" width="7.31" height="7.20" fill="#000000"/>
<rect x="86.62" y="510.50" width="7.31" height="7.20" fill="#000000"/>
<rect x="95.72" y="510.50" width="7.31" height="7.20" fill="#000000"/>
<rect x="104.83" y="510.50" width="7.31" height="7.20" fill="#000000"/>
<rect x="113.93" y="510.50" width="7.31" height="7.20" fill="#000000"/>
<rect x="123.03" y="510.50" width="7.31" height="7.20" fill="#000000"/>
<rect x="132.14" y="510.50" width="7.31" height="7.20" fill="#000000"/>
<rect x="141.25" y="510.50" width="7.31" height="7.20" fill="#000000"/>
<rect x="150.35" y="510.50" width="7.31" height="7.20" fill="#0e0e0e"/>
<rect x="159.46" y="510.50" width="7.31" height="7.20" fill="#181818"/>
<rect x="168.56" y="510.50" width="7.31" height="7.20" fill="#212121"/>
<rect x="177.67" y="510.50" width="7.31" height="7.20" fill="#2b2b2b"/>
<rect x="186.77" y="510.50" width="7.31" height="7.20" fill="#353535"/>
<rect x="195.88" y="510.50" width="7.31" height="7.20" fill="#3e3e3e"/>
<rect x="204.98" y="510.50" width="7.31" height="7.20" fill="#484848"/>
<rect x="214.09" y="510.50" width="7.31" height="7.20" fill="#515151"/>
<rect x="223.19" y="510.50" width="7.31" height="7.20" fill="#5b5b5b"/>
<rect x="232.30" y="510.50" width="7.31" height="7.20" fill="#656565"/>
<rect x="241.40" y="510.50" width="7.31" height="7.20" fill="#6e6e6e"/>
<rect x="250.51" y="510.50" width="7.31" height="7.20" fill="#787878"/>
<rect x="259.61" y="510.50" width="7.31" height="7.20" fill="#828282"/>
<rect x="268.71" y="510.50" width="7.31" height="7.20" fill="#8b8b8b"/>
<rect x="277.82" y="510.50" width="7.31" height="7.20" fill="#959595"/>
<rect x="286.92" y="510.50" width="7.31" height="7.20" fill="#9f9f9f"/>
<rect x="296.03" y="510.50" width="7.31" height="7.20" fill="#a8a8a8"/>
<rect x="305.13" y="510.50" width="7.31" height="7.20" fill="#b2b2b2"/>
<rect x="314.24" y="510.50" width="7.31" height="7.20" fill="#bcbcbc"/>
<rect x="323.34" y="510.50" width="7.31" height="7.20" fill="#c5c5c5"/>
<rect x="332.45" y="510.50" width="7.31" height="7.20" fill="#cfcfcf"/>
<rect x="341.55" y="510.50" width="7.31" height="7.20" fill="#d8d8d8"/>
<rect x="350.66" y="510.50" width="7.31" height="7.20" fill="#e2e2e2"/>
<rect x="359.76" y="510.50" width="7.31" height="7.20" fill="#ececec"/>
<rect x="368.87" y="510.50" width="7.31" height="7.20" fill="#f5f5f5"/>
<rect x="377.97" y="510.50" width="7.31" height="7.20" fill="#ffffff"/>
<line x1="58.40" y1="519.40" x2="58.40" y2="533.50" stroke="#000" stroke-width="1.9"/>
<line x1="67.50" y1="519.40" x2="67.50" y2="526.40" stroke="#000" stroke-width="1.5"/>
<line x1="76.61" y1="519.40" x2="76.61" y2="526.40" stroke="#000" stroke-width="1.5"/>
<line x1="85.72" y1="519.40" x2="85.72" y2="526.40" stroke="#000" stroke-width="1.5"/>
<line x1="94.82" y1="519.40" x2="94.82" y2="526.40" stroke="#000" stroke-width="1.5"/>
<line x1="103.93" y1="519.40" x2="103.93" y2="533.50" stroke="#000" stroke-width="1.9"/>
<line x1="113.03" y1="519.40" x2="113.03" y2="526.40" stroke="#000" stroke-width="1.5"/>
<line x1="122.13" y1="519.40" x2="122.13" y2="526.40" stroke="#000" stroke-width="1.5"/>
<line x1="131.24" y1="519.40" x2="131.24" y2="526.40" stroke="#000" stroke-width="1.5"/>
<line x1="140.34" y1="519.40" x2="140.34" y2="526.40" stroke="#000" stroke-width="1.5"/>
<line x1="149.45" y1="519.40" x2="149.45" y2="533.50" stroke="#000" stroke-width="1.9"/>
<line x1="158.56" y1="519.40" x2="158.56" y2="526.40" stroke="#000" stroke-width="1.5"/>
<line x1="167.66" y1="519.40" x2="167.66" y2="526.40" stroke="#000" stroke-width="1.5"/>
<line x1="176.77" y1="519.40" x2="176.77" y2="526.40" stroke="#000" stroke-width="1.5"/>
<line x1="185.87" y1="519.40" x2="185.87" y2="526.40" stroke="#000" stroke-width="1.5"/>
<line x1="194.98" y1="519.40" x2="194.98" y2="533.50" stroke="#000" stroke-width="1.9"/>
<line x1="204.08" y1="519.40" x2="204.08" y2="526.40" stroke="#000" stroke-width="1.5"/>
<line x1="213.19" y1="519.40" x2="213.19" y2="526.40" stroke="#000" stroke-width="1.5"/>
<line x1="222.29" y1="519.40" x2="222.29" y2="526.40" stroke="#000" stroke-width="1.5"/>
<line x1="231.40" y1="519.40" x2="231.40" y2="526.40" stroke="#000" stroke-width="1.5"/>
<line x1="240.50" y1="519.40" x2="240.50" y2="533.50" stroke="#000" stroke-width="1.9"/>
<line x1="249.61" y1="519.40" x2="249.61" y2="526.40" stroke="#000" stroke-width="1.5"/>
<line x1="258.71" y1="519.40" x2="258.71" y2="526.40" stroke="#000" stroke-width="1.5"/>
<line x1="267.81" y1="519.40" x2="267.81" y2="526.40" stroke="#000" stroke-width="1.5"/>
<line x1="276.92" y1="519.40" x2="276.92" y2="526.40" stroke="#000" stroke-width="1.5"/>
<line x1="286.02" y1="519.40" x2="286.02" y2="533.50" stroke="#000" stroke-width="1.9"/>
<line x1="295.13" y1="519.40" x2="295.13" y2="526.40" stroke="#000" stroke-width="1.5"/>
<line x1="304.24" y1="519.40" x2="304.24" y2="526.40" stroke="#000" stroke-width="1.5"/>
<line x1="313.34" y1="519.40" x2="313.34" y2="526.40" stroke="#000" stroke-width="1.5"/>
<line x1="322.44" y1="519.40" x2="322.44" y2="526.40" stroke="#000" stroke-width="1.5"/>
<line x1="331.55" y1="519.40" x2="331.55" y2="533.50" stroke="#000" stroke-width="1.9"/>
<line x1="340.65" y1="519.40" x2="340.65" y2="526.40" stroke="#000" stroke-width="1.5"/>
<line x1="349.76" y1="519.40" x2="349.76" y2="526.40" stroke="#000" stroke-width="1.5"/>
<line x1="358.87" y1="519.40" x2="358.87" y2="526.40" stroke="#000" stroke-width="1.5"/>
<line x1="367.97" y1="519.40" x2="367.97" y2="526.40" stroke="#000" stroke-width="1.5"/>
<line x1="377.07" y1="519.40" x2="377.07" y2="533.50" stroke="#000" stroke-width="1.9"/>
<line x1="386.18" y1="519.40" x2="386.18" y2="526.40" stroke="#000" stroke-width="1.5"/>
<polygon points="479.60,508.60 472.00,514.25 479.60,519.90" fill="#e0fafa" stroke="#000" stroke-width="2" stroke-linejoin="round"/>
<polygon points="808.30,508.60 816.70,514.25 808.30,519.90" fill="#fffef0" stroke="#000" stroke-width="2" stroke-linejoin="round"/>
<rect x="479.60" y="508.60" width="328.70" height="11.30" fill="#000"/>
<rect x="480.50" y="510.50" width="6.85" height="7.20" fill="#d0f8f8"/>
<rect x="489.15" y="510.50" width="6.85" height="7.20" fill="#b8f8f8"/>
<rect x="497.80" y="510.50" width="6.85" height="7.20" fill="#a0fafa"/>
<rect x="506.45" y="510.50" width="6.85" height="7.20" fill="#88f8f8"/>
<rect x="515.10" y="510.50" width="6.85" height="7.20" fill="#70f4f8"/>
<rect x="523.75" y="510.50" width="6.85" height="7.20" fill="#50e0f8"/>
<rect x="532.40" y="510.50" width="6.85" height="7.20" fill="#34c8f8"/>
<rect x="541.05" y="510.50" width="6.85" height="7.20" fill="#22acf8"/>
<rect x="549.70" y="510.50" width="6.85" height="7.20" fill="#1890f8"/>
<rect x="558.35" y="510.50" width="6.85" height="7.20" fill="#0c78f8"/>
<rect x="567.00" y="510.50" width="6.85" height="7.20" fill="#0a68f0"/>
<rect x="575.65" y="510.50" width="6.85" height="7.20" fill="#0850f0"/>
<rect x="584.30" y="510.50" width="6.85" height="7.20" fill="#0028f8"/>
<rect x="592.95" y="510.50" width="6.85" height="7.20" fill="#0000f0"/>
<rect x="601.60" y="510.50" width="6.85" height="7.20" fill="#0008d0"/>
<rect x="610.25" y="510.50" width="6.85" height="7.20" fill="#0008b0"/>
<rect x="618.90" y="510.50" width="6.85" height="7.20" fill="#000890"/>
<rect x="627.55" y="510.50" width="6.85" height="7.20" fill="#000a70"/>
<rect x="636.20" y="510.50" width="6.85" height="7.20" fill="#000a48"/>
<rect x="644.85" y="510.50" width="6.85" height="7.20" fill="#e80c0c"/>
<rect x="653.50" y="510.50" width="6.85" height="7.20" fill="#ff1408"/>
<rect x="662.15" y="510.50" width="6.85" height="7.20" fill="#ff3008"/>
<rect x="670.80" y="510.50" width="6.85" height="7.20" fill="#ff4408"/>
<rect x="679.45" y="510.50" width="6.85" height="7.20" fill="#ff6008"/>
<rect x="688.10" y="510.50" width="6.85" height="7.20" fill="#ff7808"/>
<rect x="696.75" y="510.50" width="6.85" height="7.20" fill="#ff8c10"/>
<rect x="705.40" y="510.50" width="6.85" height="7.20" fill="#ffa018"/>
<rect x="714.05" y="510.50" width="6.85" height="7.20" fill="#ffb420"/>
<rect x="722.70" y="510.50" width="6.85" height="7.20" fill="#ffc430"/>
<rect x="731.35" y="510.50" width="6.85" height="7.20" fill="#ffd840"/>
<rect x="740.00" y="510.50" width="6.85" height="7.20" fill="#fff840"/>
<rect x="748.65" y="510.50" width="6.85" height="7.20" fill="#fff850"/>
<rect x="757.30" y="510.50" width="6.85" height="7.20" fill="#fff870"/>
<rect x="765.95" y="510.50" width="6.85" height="7.20" fill="#fff888"/>
<rect x="774.60" y="510.50" width="6.85" height="7.20" fill="#fff8a0"/>
<rect x="783.25" y="510.50" width="6.85" height="7.20" fill="#fff8b8"/>
<rect x="791.90" y="510.50" width="6.85" height="7.20" fill="#fffcc8"/>
<rect x="800.55" y="510.50" width="6.85" height="7.20" fill="#fffce0"/>
<line x1="479.60" y1="519.40" x2="479.60" y2="526.40" stroke="#000" stroke-width="1.5"/>
<line x1="488.25" y1="519.40" x2="488.25" y2="526.40" stroke="#000" stroke-width="1.5"/>
<line x1="496.90" y1="519.40" x2="496.90" y2="526.40" stroke="#000" stroke-width="1.5"/>
<line x1="505.55" y1="519.40" x2="505.55" y2="526.40" stroke="#000" stroke-width="1.5"/>
<line x1="514.20" y1="519.40" x2="514.20" y2="526.40" stroke="#000" stroke-width="1.5"/>
<line x1="522.85" y1="519.40" x2="522.85" y2="526.40" stroke="#000" stroke-width="1.5"/>
<line x1="531.50" y1="519.40" x2="531.50" y2="526.40" stroke="#000" stroke-width="1.5"/>
<line x1="540.15" y1="519.40" x2="540.15" y2="526.40" stroke="#000" stroke-width="1.5"/>
<line x1="548.80" y1="519.40" x2="548.80" y2="526.40" stroke="#000" stroke-width="1.5"/>
<line x1="557.45" y1="519.40" x2="557.45" y2="526.40" stroke="#000" stroke-width="1.5"/>
<line x1="566.10" y1="519.40" x2="566.10" y2="526.40" stroke="#000" stroke-width="1.5"/>
<line x1="574.75" y1="519.40" x2="574.75" y2="526.40" stroke="#000" stroke-width="1.5"/>
<line x1="583.40" y1="519.40" x2="583.40" y2="526.40" stroke="#000" stroke-width="1.5"/>
<line x1="592.05" y1="519.40" x2="592.05" y2="526.40" stroke="#000" stroke-width="1.5"/>
<line x1="600.70" y1="519.40" x2="600.70" y2="526.40" stroke="#000" stroke-width="1.5"/>
<line x1="609.35" y1="519.40" x2="609.35" y2="526.40" stroke="#000" stroke-width="1.5"/>
<line x1="618.00" y1="519.40" x2="618.00" y2="526.40" stroke="#000" stroke-width="1.5"/>
<line x1="626.65" y1="519.40" x2="626.65" y2="526.40" stroke="#000" stroke-width="1.5"/>
<line x1="635.30" y1="519.40" x2="635.30" y2="526.40" stroke="#000" stroke-width="1.5"/>
<line x1="643.95" y1="519.40" x2="643.95" y2="526.40" stroke="#000" stroke-width="1.5"/>
<line x1="652.60" y1="519.40" x2="652.60" y2="526.40" stroke="#000" stroke-width="1.5"/>
<line x1="661.25" y1="519.40" x2="661.25" y2="526.40" stroke="#000" stroke-width="1.5"/>
<line x1="669.90" y1="519.40" x2="669.90" y2="526.40" stroke="#000" stroke-width="1.5"/>
<line x1="678.55" y1="519.40" x2="678.55" y2="526.40" stroke="#000" stroke-width="1.5"/>
<line x1="687.20" y1="519.40" x2="687.20" y2="526.40" stroke="#000" stroke-width="1.5"/>
<line x1="695.85" y1="519.40" x2="695.85" y2="526.40" stroke="#000" stroke-width="1.5"/>
<line x1="704.50" y1="519.40" x2="704.50" y2="526.40" stroke="#000" stroke-width="1.5"/>
<line x1="713.15" y1="519.40" x2="713.15" y2="526.40" stroke="#000" stroke-width="1.5"/>
<line x1="721.80" y1="519.40" x2="721.80" y2="526.40" stroke="#000" stroke-width="1.5"/>
<line x1="730.45" y1="519.40" x2="730.45" y2="526.40" stroke="#000" stroke-width="1.5"/>
<line x1="739.10" y1="519.40" x2="739.10" y2="526.40" stroke="#000" stroke-width="1.5"/>
<line x1="747.75" y1="519.40" x2="747.75" y2="526.40" stroke="#000" stroke-width="1.5"/>
<line x1="756.40" y1="519.40" x2="756.40" y2="526.40" stroke="#000" stroke-width="1.5"/>
<line x1="765.05" y1="519.40" x2="765.05" y2="526.40" stroke="#000" stroke-width="1.5"/>
<line x1="773.70" y1="519.40" x2="773.70" y2="526.40" stroke="#000" stroke-width="1.5"/>
<line x1="782.35" y1="519.40" x2="782.35" y2="526.40" stroke="#000" stroke-width="1.5"/>
<line x1="791.00" y1="519.40" x2="791.00" y2="526.40" stroke="#000" stroke-width="1.5"/>
<line x1="799.65" y1="519.40" x2="799.65" y2="526.40" stroke="#000" stroke-width="1.5"/>
<line x1="808.30" y1="519.40" x2="808.30" y2="526.40" stroke="#000" stroke-width="1.5"/>
<line x1="505.55" y1="519.4" x2="505.55" y2="533.5" stroke="#000" stroke-width="1.9"/>
<line x1="574.75" y1="519.4" x2="574.75" y2="533.5" stroke="#000" stroke-width="1.9"/>
<line x1="643.95" y1="519.4" x2="643.95" y2="533.5" stroke="#000" stroke-width="1.9"/>
<line x1="713.15" y1="519.4" x2="713.15" y2="533.5" stroke="#000" stroke-width="1.9"/>
<line x1="782.35" y1="519.4" x2="782.35" y2="533.5" stroke="#000" stroke-width="1.9"/>
<rect x="59.00" y="74.50" width="374.40" height="374.40" fill="none" stroke="#000" stroke-width="2"/>
<line x1="59.00" y1="74.50" x2="59.00" y2="60.00" stroke="#000" stroke-width="2"/>
<line x1="59.00" y1="448.90" x2="59.00" y2="463.40" stroke="#000" stroke-width="2"/>
<line x1="59.00" y1="448.90" x2="44.50" y2="448.90" stroke="#000" stroke-width="2"/>
<line x1="433.40" y1="448.90" x2="447.90" y2="448.90" stroke="#000" stroke-width="2"/>
<line x1="74.60" y1="74.50" x2="74.60" y2="67.70" stroke="#000" stroke-width="1.6"/>
<line x1="74.60" y1="448.90" x2="74.60" y2="455.70" stroke="#000" stroke-width="1.6"/>
<line x1="59.00" y1="433.30" x2="52.20" y2="433.30" stroke="#000" stroke-width="1.6"/>
<line x1="433.40" y1="433.30" x2="440.20" y2="433.30" stroke="#000" stroke-width="1.6"/>
<line x1="90.20" y1="74.50" x2="90.20" y2="67.70" stroke="#000" stroke-width="1.6"/>
<line x1="90.20" y1="448.90" x2="90.20" y2="455.70" stroke="#000" stroke-width="1.6"/>
<line x1="59.00" y1="417.70" x2="52.20" y2="417.70" stroke="#000" stroke-width="1.6"/>
<line x1="433.40" y1="417.70" x2="440.20" y2="417.70" stroke="#000" stroke-width="1.6"/>
<line x1="105.80" y1="74.50" x2="105.80" y2="67.70" stroke="#000" stroke-width="1.6"/>
<line x1="105.80" y1="448.90" x2="105.80" y2="455.70" stroke="#000" stroke-width="1.6"/>
<line x1="59.00" y1="402.10" x2="52.20" y2="402.10" stroke="#000" stroke-width="1.6"/>
<line x1="433.40" y1="402.10" x2="440.20" y2="402.10" stroke="#000" stroke-width="1.6"/>
<line x1="121.40" y1="74.50" x2="121.40" y2="67.70" stroke="#000" stroke-width="1.6"/>
<line x1="121.40" y1="448.90" x2="121.40" y2="455.70" stroke="#000" stroke-width="1.6"/>
<line x1="59.00" y1="386.50" x2="52.20" y2="386.50" stroke="#000" stroke-width="1.6"/>
<line x1="433.40" y1="386.50" x2="440.20" y2="386.50" stroke="#000" stroke-width="1.6"/>
<line x1="137.00" y1="74.50" x2="137.00" y2="67.70" stroke="#000" stroke-width="1.6"/>
<line x1="137.00" y1="448.90" x2="137.00" y2="455.70" stroke="#000" stroke-width="1.6"/>
<line x1="59.00" y1="370.90" x2="52.20" y2="370.90" stroke="#000" stroke-width="1.6"/>
<line x1="433.40" y1="370.90" x2="440.20" y2="370.90" stroke="#000" stroke-width="1.6"/>
<line x1="152.60" y1="74.50" x2="152.60" y2="60.00" stroke="#000" stroke-width="2"/>
<line x1="152.60" y1="448.90" x2="152.60" y2="463.40" stroke="#000" stroke-width="2"/>
<line x1="59.00" y1="355.30" x2="44.50" y2="355.30" stroke="#000" stroke-width="2"/>
<line x1="433.40" y1="355.30" x2="447.90" y2="355.30" stroke="#000" stroke-width="2"/>
<line x1="168.20" y1="74.50" x2="168.20" y2="67.70" stroke="#000" stroke-width="1.6"/>
<line x1="168.20" y1="448.90" x2="168.20" y2="455.70" stroke="#000" stroke-width="1.6"/>
<line x1="59.00" y1="339.70" x2="52.20" y2="339.70" stroke="#000" stroke-width="1.6"/>
<line x1="433.40" y1="339.70" x2="440.20" y2="339.70" stroke="#000" stroke-width="1.6"/>
<line x1="183.80" y1="74.50" x2="183.80" y2="67.70" stroke="#000" stroke-width="1.6"/>
<line x1="183.80" y1="448.90" x2="183.80" y2="455.70" stroke="#000" stroke-width="1.6"/>
<line x1="59.00" y1="324.10" x2="52.20" y2="324.10" stroke="#000" stroke-width="1.6"/>
<line x1="433.40" y1="324.10" x2="440.20" y2="324.10" stroke="#000" stroke-width="1.6"/>
<line x1="199.40" y1="74.50" x2="199.40" y2="67.70" stroke="#000" stroke-width="1.6"/>
<line x1="199.40" y1="448.90" x2="199.40" y2="455.70" stroke="#000" stroke-width="1.6"/>
<line x1="59.00" y1="308.50" x2="52.20" y2="308.50" stroke="#000" stroke-width="1.6"/>
<line x1="433.40" y1="308.50" x2="440.20" y2="308.50" stroke="#000" stroke-width="1.6"/>
<line x1="215.00" y1="74.50" x2="215.00" y2="67.70" stroke="#000" stroke-width="1.6"/>
<line x1="215.00" y1="448.90" x2="215.00" y2="455.70" stroke="#000" stroke-width="1.6"/>
<line x1="59.00" y1="292.90" x2="52.20" y2="292.90" stroke="#000" stroke-width="1.6"/>
<line x1="433.40" y1="292.90" x2="440.20" y2="292.90" stroke="#000" stroke-width="1.6"/>
<line x1="230.60" y1="74.50" x2="230.60" y2="67.70" stroke="#000" stroke-width="1.6"/>
<line x1="230.60" y1="448.90" x2="230.60" y2="455.70" stroke="#000" stroke-width="1.6"/>
<line x1="59.00" y1="277.30" x2="52.20" y2="277.30" stroke="#000" stroke-width="1.6"/>
<line x1="433.40" y1="277.30" x2="440.20" y2="277.30" stroke="#000" stroke-width="1.6"/>
<line x1="246.20" y1="74.50" x2="246.20" y2="60.00" stroke="#000" stroke-width="2"/>
<line x1="246.20" y1="448.90" x2="246.20" y2="463.40" stroke="#000" stroke-width="2"/>
<line x1="59.00" y1="261.70" x2="44.50" y2="261.70" stroke="#000" stroke-width="2"/>
<line x1="433.40" y1="261.70" x2="447.90" y2="261.70" stroke="#000" stroke-width="2"/>
<line x1="261.80" y1="74.50" x2="261.80" y2="67.70" stroke="#000" stroke-width="1.6"/>
<line x1="261.80" y1="448.90" x2="261.80" y2="455.70" stroke="#000" stroke-width="1.6"/>
<line x1="59.00" y1="246.10" x2="52.20" y2="246.10" stroke="#000" stroke-width="1.6"/>
<line x1="433.40" y1="246.10" x2="440.20" y2="246.10" stroke="#000" stroke-width="1.6"/>
<line x1="277.40" y1="74.50" x2="277.40" y2="67.70" stroke="#000" stroke-width="1.6"/>
<line x1="277.40" y1="448.90" x2="277.40" y2="455.70" stroke="#000" stroke-width="1.6"/>
<line x1="59.00" y1="230.50" x2="52.20" y2="230.50" stroke="#000" stroke-width="1.6"/>
<line x1="433.40" y1="230.50" x2="440.20" y2="230.50" stroke="#000" stroke-width="1.6"/>
<line x1="293.00" y1="74.50" x2="293.00" y2="67.70" stroke="#000" stroke-width="1.6"/>
<line x1="293.00" y1="448.90" x2="293.00" y2="455.70" stroke="#000" stroke-width="1.6"/>
<line x1="59.00" y1="214.90" x2="52.20" y2="214.90" stroke="#000" stroke-width="1.6"/>
<line x1="433.40" y1="214.90" x2="440.20" y2="214.90" stroke="#000" stroke-width="1.6"/>
<line x1="308.60" y1="74.50" x2="308.60" y2="67.70" stroke="#000" stroke-width="1.6"/>
<line x1="308.60" y1="448.90" x2="308.60" y2="455.70" stroke="#000" stroke-width="1.6"/>
<line x1="59.00" y1="199.30" x2="52.20" y2="199.30" stroke="#000" stroke-width="1.6"/>
<line x1="433.40" y1="199.30" x2="440.20" y2="199.30" stroke="#000" stroke-width="1.6"/>
<line x1="324.20" y1="74.50" x2="324.20" y2="67.70" stroke="#000" stroke-width="1.6"/>
<line x1="324.20" y1="448.90" x2="324.20" y2="455.70" stroke="#000" stroke-width="1.6"/>
<line x1="59.00" y1="183.70" x2="52.20" y2="183.70" stroke="#000" stroke-width="1.6"/>
<line x1="433.40" y1="183.70" x2="440.20" y2="183.70" stroke="#000" stroke-width="1.6"/>
<line x1="339.80" y1="74.50" x2="339.80" y2="60.00" stroke="#000" stroke-width="2"/>
<line x1="339.80" y1="448.90" x2="339.80" y2="463.40" stroke="#000" stroke-width="2"/>
<line x1="59.00" y1="168.10" x2="44.50" y2="168.10" stroke="#000" stroke-width="2"/>
<line x1="433.40" y1="168.10" x2="447.90" y2="168.10" stroke="#000" stroke-width="2"/>
<line x1="355.40" y1="74.50" x2="355.40" y2="67.70" stroke="#000" stroke-width="1.6"/>
<line x1="355.40" y1="448.90" x2="355.40" y2="455.70" stroke="#000" stroke-width="1.6"/>
<line x1="59.00" y1="152.50" x2="52.20" y2="152.50" stroke="#000" stroke-width="1.6"/>
<line x1="433.40" y1="152.50" x2="440.20" y2="152.50" stroke="#000" stroke-width="1.6"/>
<line x1="371.00" y1="74.50" x2="371.00" y2="67.70" stroke="#000" stroke-width="1.6"/>
<line x1="371.00" y1="448.90" x2="371.00" y2="455.70" stroke="#000" stroke-width="1.6"/>
<line x1="59.00" y1="136.90" x2="52.20" y2="136.90" stroke="#000" stroke-width="1.6"/>
<line x1="433.40" y1="136.90" x2="440.20" y2="136.90" stroke="#000" stroke-width="1.6"/>
<line x1="386.60" y1="74.50" x2="386.60" y2="67.70" stroke="#000" stroke-width="1.6"/>
<line x1="386.60" y1="448.90" x2="386.60" y2="455.70" stroke="#000" stroke-width="1.6"/>
<line x1="59.00" y1="121.30" x2="52.20" y2="121.30" stroke="#000" stroke-width="1.6"/>
<line x1="433.40" y1="121.30" x2="440.20" y2="121.30" stroke="#000" stroke-width="1.6"/>
<line x1="402.20" y1="74.50" x2="402.20" y2="67.70" stroke="#000" stroke-width="1.6"/>
<line x1="402.20" y1="448.90" x2="402.20" y2="455.70" stroke="#000" stroke-width="1.6"/>
<line x1="59.00" y1="105.70" x2="52.20" y2="105.70" stroke="#000" stroke-width="1.6"/>
<line x1="433.40" y1="105.70" x2="440.20" y2="105.70" stroke="#000" stroke-width="1.6"/>
<line x1="417.80" y1="74.50" x2="417.80" y2="67.70" stroke="#000" stroke-width="1.6"/>
<line x1="417.80" y1="448.90" x2="417.80" y2="455.70" stroke="#000" stroke-width="1.6"/>
<line x1="59.00" y1="90.10" x2="52.20" y2="90.10" stroke="#000" stroke-width="1.6"/>
<line x1="433.40" y1="90.10" x2="440.20" y2="90.10" stroke="#000" stroke-width="1.6"/>
<line x1="433.40" y1="74.50" x2="433.40" y2="60.00" stroke="#000" stroke-width="2"/>
<line x1="433.40" y1="448.90" x2="433.40" y2="463.40" stroke="#000" stroke-width="2"/>
<line x1="59.00" y1="74.50" x2="44.50" y2="74.50" stroke="#000" stroke-width="2"/>
<line x1="433.40" y1="74.50" x2="447.90" y2="74.50" stroke="#000" stroke-width="2"/>
<rect x="480.60" y="74.50" width="374.40" height="374.40" fill="none" stroke="#000" stroke-width="2"/>
<line x1="480.60" y1="74.50" x2="480.60" y2="60.00" stroke="#000" stroke-width="2"/>
<line x1="480.60" y1="448.90" x2="480.60" y2="463.40" stroke="#000" stroke-width="2"/>
<line x1="480.60" y1="448.90" x2="466.10" y2="448.90" stroke="#000" stroke-width="2"/>
<line x1="855.00" y1="448.90" x2="869.50" y2="448.90" stroke="#000" stroke-width="2"/>
<line x1="496.20" y1="74.50" x2="496.20" y2="67.70" stroke="#000" stroke-width="1.6"/>
<line x1="496.20" y1="448.90" x2="496.20" y2="455.70" stroke="#000" stroke-width="1.6"/>
<line x1="480.60" y1="433.30" x2="473.80" y2="433.30" stroke="#000" stroke-width="1.6"/>
<line x1="855.00" y1="433.30" x2="861.80" y2="433.30" stroke="#000" stroke-width="1.6"/>
<line x1="511.80" y1="74.50" x2="511.80" y2="67.70" stroke="#000" stroke-width="1.6"/>
<line x1="511.80" y1="448.90" x2="511.80" y2="455.70" stroke="#000" stroke-width="1.6"/>
<line x1="480.60" y1="417.70" x2="473.80" y2="417.70" stroke="#000" stroke-width="1.6"/>
<line x1="855.00" y1="417.70" x2="861.80" y2="417.70" stroke="#000" stroke-width="1.6"/>
<line x1="527.40" y1="74.50" x2="527.40" y2="67.70" stroke="#000" stroke-width="1.6"/>
<line x1="527.40" y1="448.90" x2="527.40" y2="455.70" stroke="#000" stroke-width="1.6"/>
<line x1="480.60" y1="402.10" x2="473.80" y2="402.10" stroke="#000" stroke-width="1.6"/>
<line x1="855.00" y1="402.10" x2="861.80" y2="402.10" stroke="#000" stroke-width="1.6"/>
<line x1="543.00" y1="74.50" x2="543.00" y2="67.70" stroke="#000" stroke-width="1.6"/>
<line x1="543.00" y1="448.90" x2="543.00" y2="455.70" stroke="#000" stroke-width="1.6"/>
<line x1="480.60" y1="386.50" x2="473.80" y2="386.50" stroke="#000" stroke-width="1.6"/>
<line x1="855.00" y1="386.50" x2="861.80" y2="386.50" stroke="#000" stroke-width="1.6"/>
<line x1="558.60" y1="74.50" x2="558.60" y2="67.70" stroke="#000" stroke-width="1.6"/>
<line x1="558.60" y1="448.90" x2="558.60" y2="455.70" stroke="#000" stroke-width="1.6"/>
<line x1="480.60" y1="370.90" x2="473.80" y2="370.90" stroke="#000" stroke-width="1.6"/>
<line x1="855.00" y1="370.90" x2="861.80" y2="370.90" stroke="#000" stroke-width="1.6"/>
<line x1="574.20" y1="74.50" x2="574.20" y2="60.00" stroke="#000" stroke-width="2"/>
<line x1="574.20" y1="448.90" x2="574.20" y2="463.40" stroke="#000" stroke-width="2"/>
<line x1="480.60" y1="355.30" x2="466.10" y2="355.30" stroke="#000" stroke-width="2"/>
<line x1="855.00" y1="355.30" x2="869.50" y2="355.30" stroke="#000" stroke-width="2"/>
<line x1="589.80" y1="74.50" x2="589.80" y2="67.70" stroke="#000" stroke-width="1.6"/>
<line x1="589.80" y1="448.90" x2="589.80" y2="455.70" stroke="#000" stroke-width="1.6"/>
<line x1="480.60" y1="339.70" x2="473.80" y2="339.70" stroke="#000" stroke-width="1.6"/>
<line x1="855.00" y1="339.70" x2="861.80" y2="339.70" stroke="#000" stroke-width="1.6"/>
<line x1="605.40" y1="74.50" x2="605.40" y2="67.70" stroke="#000" stroke-width="1.6"/>
<line x1="605.40" y1="448.90" x2="605.40" y2="455.70" stroke="#000" stroke-width="1.6"/>
<line x1="480.60" y1="324.10" x2="473.80" y2="324.10" stroke="#000" stroke-width="1.6"/>
<line x1="855.00" y1="324.10" x2="861.80" y2="324.10" stroke="#000" stroke-width="1.6"/>
<line x1="621.00" y1="74.50" x2="621.00" y2="67.70" stroke="#000" stroke-width="1.6"/>
<line x1="621.00" y1="448.90" x2="621.00" y2="455.70" stroke="#000" stroke-width="1.6"/>
<line x1="480.60" y1="308.50" x2="473.80" y2="308.50" stroke="#000" stroke-width="1.6"/>
<line x1="855.00" y1="308.50" x2="861.80" y2="308.50" stroke="#000" stroke-width="1.6"/>
<line x1="636.60" y1="74.50" x2="636.60" y2="67.70" stroke="#000" stroke-width="1.6"/>
<line x1="636.60" y1="448.90" x2="636.60" y2="455.70" stroke="#000" stroke-width="1.6"/>
<line x1="480.60" y1="292.90" x2="473.80" y2="292.90" stroke="#000" stroke-width="1.6"/>
<line x1="855.00" y1="292.90" x2="861.80" y2="292.90" stroke="#000" stroke-width="1.6"/>
<line x1="652.20" y1="74.50" x2="652.20" y2="67.70" stroke="#000" stroke-width="1.6"/>
<line x1="652.20" y1="448.90" x2="652.20" y2="455.70" stroke="#000" stroke-width="1.6"/>
<line x1="480.60" y1="277.30" x2="473.80" y2="277.30" stroke="#000" stroke-width="1.6"/>
<line x1="855.00" y1="277.30" x2="861.80" y2="277.30" stroke="#000" stroke-width="1.6"/>
<line x1="667.80" y1="74.50" x2="667.80" y2="60.00" stroke="#000" stroke-width="2"/>
<line x1="667.80" y1="448.90" x2="667.80" y2="463.40" stroke="#000" stroke-width="2"/>
<line x1="480.60" y1="261.70" x2="466.10" y2="261.70" stroke="#000" stroke-width="2"/>
<line x1="855.00" y1="261.70" x2="869.50" y2="261.70" stroke="#000" stroke-width="2"/>
<line x1="683.40" y1="74.50" x2="683.40" y2="67.70" stroke="#000" stroke-width="1.6"/>
<line x1="683.40" y1="448.90" x2="683.40" y2="455.70" stroke="#000" stroke-width="1.6"/>
<line x1="480.60" y1="246.10" x2="473.80" y2="246.10" stroke="#000" stroke-width="1.6"/>
<line x1="855.00" y1="246.10" x2="861.80" y2="246.10" stroke="#000" stroke-width="1.6"/>
<line x1="699.00" y1="74.50" x2="699.00" y2="67.70" stroke="#000" stroke-width="1.6"/>
<line x1="699.00" y1="448.90" x2="699.00" y2="455.70" stroke="#000" stroke-width="1.6"/>
<line x1="480.60" y1="230.50" x2="473.80" y2="230.50" stroke="#000" stroke-width="1.6"/>
<line x1="855.00" y1="230.50" x2="861.80" y2="230.50" stroke="#000" stroke-width="1.6"/>
<line x1="714.60" y1="74.50" x2="714.60" y2="67.70" stroke="#000" stroke-width="1.6"/>
<line x1="714.60" y1="448.90" x2="714.60" y2="455.70" stroke="#000" stroke-width="1.6"/>
<line x1="480.60" y1="214.90" x2="473.80" y2="214.90" stroke="#000" stroke-width="1.6"/>
<line x1="855.00" y1="214.90" x2="861.80" y2="214.90" stroke="#000" stroke-width="1.6"/>
<line x1="730.20" y1="74.50" x2="730.20" y2="67.70" stroke="#000" stroke-width="1.6"/>
<line x1="730.20" y1="448.90" x2="730.20" y2="455.70" stroke="#000" stroke-width="1.6"/>
<line x1="480.60" y1="199.30" x2="473.80" y2="199.30" stroke="#000" stroke-width="1.6"/>
<line x1="855.00" y1="199.30" x2="861.80" y2="199.30" stroke="#000" stroke-width="1.6"/>
<line x1="745.80" y1="74.50" x2="745.80" y2="67.70" stroke="#000" stroke-width="1.6"/>
<line x1="745.80" y1="448.90" x2="745.80" y2="455.70" stroke="#000" stroke-width="1.6"/>
<line x1="480.60" y1="183.70" x2="473.80" y2="183.70" stroke="#000" stroke-width="1.6"/>
<line x1="855.00" y1="183.70" x2="861.80" y2="183.70" stroke="#000" stroke-width="1.6"/>
<line x1="761.40" y1="74.50" x2="761.40" y2="60.00" stroke="#000" stroke-width="2"/>
<line x1="761.40" y1="448.90" x2="761.40" y2="463.40" stroke="#000" stroke-width="2"/>
<line x1="480.60" y1="168.10" x2="466.10" y2="168.10" stroke="#000" stroke-width="2"/>
<line x1="855.00" y1="168.10" x2="869.50" y2="168.10" stroke="#000" stroke-width="2"/>
<line x1="777.00" y1="74.50" x2="777.00" y2="67.70" stroke="#000" stroke-width="1.6"/>
<line x1="777.00" y1="448.90" x2="777.00" y2="455.70" stroke="#000" stroke-width="1.6"/>
<line x1="480.60" y1="152.50" x2="473.80" y2="152.50" stroke="#000" stroke-width="1.6"/>
<line x1="855.00" y1="152.50" x2="861.80" y2="152.50" stroke="#000" stroke-width="1.6"/>
<line x1="792.60" y1="74.50" x2="792.60" y2="67.70" stroke="#000" stroke-width="1.6"/>
<line x1="792.60" y1="448.90" x2="792.60" y2="455.70" stroke="#000" stroke-width="1.6"/>
<line x1="480.60" y1="136.90" x2="473.80" y2="136.90" stroke="#000" stroke-width="1.6"/>
<line x1="855.00" y1="136.90" x2="861.80" y2="136.90" stroke="#000" stroke-width="1.6"/>
<line x1="808.20" y1="74.50" x2="808.20" y2="67.70" stroke="#000" stroke-width="1.6"/>
<line x1="808.20" y1="448.90" x2="808.20" y2="455.70" stroke="#000" stroke-width="1.6"/>
<line x1="480.60" y1="121.30" x2="473.80" y2="121.30" stroke="#000" stroke-width="1.6"/>
<line x1="855.00" y1="121.30" x2="861.80" y2="121.30" stroke="#000" stroke-width="1.6"/>
<line x1="823.80" y1="74.50" x2="823.80" y2="67.70" stroke="#000" stroke-width="1.6"/>
<line x1="823.80" y1="448.90" x2="823.80" y2="455.70" stroke="#000" stroke-width="1.6"/>
<line x1="480.60" y1="105.70" x2="473.80" y2="105.70" stroke="#000" stroke-width="1.6"/>
<line x1="855.00" y1="105.70" x2="861.80" y2="105.70" stroke="#000" stroke-width="1.6"/>
<line x1="839.40" y1="74.50" x2="839.40" y2="67.70" stroke="#000" stroke-width="1.6"/>
<line x1="839.40" y1="448.90" x2="839.40" y2="455.70" stroke="#000" stroke-width="1.6"/>
<line x1="480.60" y1="90.10" x2="473.80" y2="90.10" stroke="#000" stroke-width="1.6"/>
<line x1="855.00" y1="90.10" x2="861.80" y2="90.10" stroke="#000" stroke-width="1.6"/>
<line x1="855.00" y1="74.50" x2="855.00" y2="60.00" stroke="#000" stroke-width="2"/>
<line x1="855.00" y1="448.90" x2="855.00" y2="463.40" stroke="#000" stroke-width="2"/>
<line x1="480.60" y1="74.50" x2="466.10" y2="74.50" stroke="#000" stroke-width="2"/>
<line x1="855.00" y1="74.50" x2="869.50" y2="74.50" stroke="#000" stroke-width="2"/>
<g font-family='"Liberation Sans", sans-serif' font-weight="bold" fill="#000" stroke="#000" stroke-width="0.7" stroke-linejoin="round">
<text x="59.6" y="25.2" font-size="35" text-anchor="start" textLength="524.5" lengthAdjust="spacingAndGlyphs">Fukuoka, 20190622 [09:46, el=0.0]</text>
<text x="60.5" y="58.6" font-size="29" text-anchor="start" textLength="117" lengthAdjust="spacingAndGlyphs">SNR [dB]</text>
<text x="481" y="58.6" font-size="29" text-anchor="start" textLength="308" lengthAdjust="spacingAndGlyphs">Doppler Velocity [m/s]</text>
<text x="30.8" y="459.5" font-size="30" text-anchor="end">−6</text>
<text x="30.8" y="365.9" font-size="30" text-anchor="end">−3</text>
<text x="30.8" y="272.3" font-size="30" text-anchor="end">0</text>
<text x="30.8" y="178.7" font-size="30" text-anchor="end">3</text>
<text x="30.8" y="85.1" font-size="30" text-anchor="end">6</text>
<text x="59.0" y="499.6" font-size="30" text-anchor="middle">−6</text>
<text x="152.6" y="499.6" font-size="30" text-anchor="middle">−3</text>
<text x="246.2" y="499.6" font-size="30" text-anchor="middle">0</text>
<text x="339.8" y="499.6" font-size="30" text-anchor="middle">3</text>
<text x="433.4" y="499.6" font-size="30" text-anchor="middle">6</text>
<text x="480.6" y="499.6" font-size="30" text-anchor="middle">−6</text>
<text x="574.2" y="499.6" font-size="30" text-anchor="middle">−3</text>
<text x="667.8" y="499.6" font-size="30" text-anchor="middle">0</text>
<text x="761.4" y="499.6" font-size="30" text-anchor="middle">3</text>
<text x="855.0" y="499.6" font-size="30" text-anchor="middle">6</text>
<text x="58.4" y="568.3" font-size="28.5" text-anchor="middle">0</text>
<text x="103.9" y="568.3" font-size="28.5" text-anchor="middle">2.5</text>
<text x="149.5" y="568.3" font-size="28.5" text-anchor="middle">5</text>
<text x="195.0" y="568.3" font-size="28.5" text-anchor="middle">7.5</text>
<text x="240.5" y="568.3" font-size="28.5" text-anchor="middle">10</text>
<text x="286.0" y="568.3" font-size="28.5" text-anchor="middle">12.5</text>
<text x="331.6" y="568.3" font-size="28.5" text-anchor="middle">15</text>
<text x="377.1" y="568.3" font-size="28.5" text-anchor="middle">17.5</text>
<text x="505.6" y="568.3" font-size="28.5" text-anchor="middle">−8</text>
<text x="574.8" y="568.3" font-size="28.5" text-anchor="middle">−4</text>
<text x="644.0" y="568.3" font-size="28.5" text-anchor="middle">0</text>
<text x="713.2" y="568.3" font-size="28.5" text-anchor="middle">4</text>
<text x="782.4" y="568.3" font-size="28.5" text-anchor="middle">8</text>
</g>
</svg>
</body></html>
